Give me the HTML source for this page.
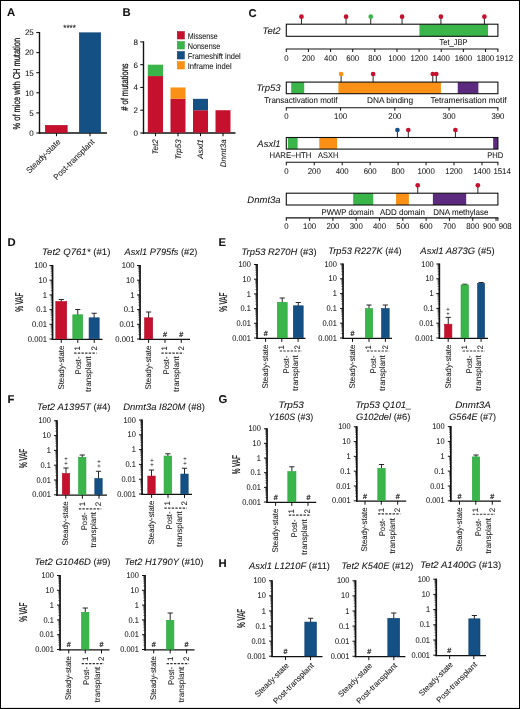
<!DOCTYPE html>
<html><head><meta charset="utf-8"><title>Figure</title>
<style>
html,body{margin:0;padding:0;background:#fff;}
svg{display:block;font-family:"Liberation Sans",sans-serif;fill:#111;}
text{stroke:#111;stroke-width:0.05px;text-rendering:geometricPrecision;}
</style></head><body>
<svg width="520" height="709" viewBox="0 0 520 709" shape-rendering="auto">
<rect x="0" y="0" width="520" height="709" fill="#fff"/>
<rect x="0" y="0" width="520" height="1" fill="#000"/>
<rect x="0" y="0" width="1" height="709" fill="#000"/>
<rect x="519" y="0" width="1" height="709" fill="#000"/>
<rect x="0" y="707.9" width="520" height="1.1" fill="#000"/>
<text x="6.90" y="15.95" font-size="11.3" font-weight="bold">A</text>
<text x="122.60" y="16.05" font-size="11.3" font-weight="bold">B</text>
<text x="248.60" y="16.55" font-size="11.3" font-weight="bold">C</text>
<text x="7.60" y="246.25" font-size="11.3" font-weight="bold">D</text>
<text x="218.60" y="246.25" font-size="11.3" font-weight="bold">E</text>
<text x="7.60" y="403.35" font-size="11.3" font-weight="bold">F</text>
<text x="218.40" y="403.35" font-size="11.3" font-weight="bold">G</text>
<text x="218.40" y="567.25" font-size="11.3" font-weight="bold">H</text>
<line x1="39.50" y1="32.00" x2="39.50" y2="133.70" stroke="#111" stroke-width="1.4" stroke-linecap="butt"/>
<line x1="38.80" y1="133.00" x2="107.00" y2="133.00" stroke="#111" stroke-width="1.4" stroke-linecap="butt"/>
<line x1="36.30" y1="133.00" x2="39.50" y2="133.00" stroke="#111" stroke-width="1.1" stroke-linecap="butt"/>
<text x="33.80" y="135.86" font-size="8.0" text-anchor="end">0</text>
<line x1="36.30" y1="112.90" x2="39.50" y2="112.90" stroke="#111" stroke-width="1.1" stroke-linecap="butt"/>
<text x="33.80" y="115.76" font-size="8.0" text-anchor="end">5</text>
<line x1="36.30" y1="92.80" x2="39.50" y2="92.80" stroke="#111" stroke-width="1.1" stroke-linecap="butt"/>
<text x="33.80" y="95.66" font-size="8.0" text-anchor="end">10</text>
<line x1="36.30" y1="72.70" x2="39.50" y2="72.70" stroke="#111" stroke-width="1.1" stroke-linecap="butt"/>
<text x="33.80" y="75.56" font-size="8.0" text-anchor="end">15</text>
<line x1="36.30" y1="52.60" x2="39.50" y2="52.60" stroke="#111" stroke-width="1.1" stroke-linecap="butt"/>
<text x="33.80" y="55.46" font-size="8.0" text-anchor="end">20</text>
<line x1="36.30" y1="32.50" x2="39.50" y2="32.50" stroke="#111" stroke-width="1.1" stroke-linecap="butt"/>
<text x="33.80" y="35.36" font-size="8.0" text-anchor="end">25</text>
<rect x="45.30" y="125.30" width="21.90" height="7.40" fill="#c5112e" stroke="#ae0c27" stroke-width="0.6"/>
<rect x="79.30" y="32.80" width="21.40" height="99.90" fill="#155085" stroke="#0e4273" stroke-width="0.6"/>
<line x1="56.50" y1="133.00" x2="56.50" y2="136.20" stroke="#111" stroke-width="1.1" stroke-linecap="butt"/>
<line x1="90.00" y1="133.00" x2="90.00" y2="136.20" stroke="#111" stroke-width="1.1" stroke-linecap="butt"/>
<text x="69.60" y="30.60" font-size="9" text-anchor="middle" textLength="12.60" lengthAdjust="spacingAndGlyphs">****</text>
<text transform="translate(16.40 83.70) rotate(-90)" x="0" y="3.58" font-size="10" text-anchor="middle" textLength="91.50" lengthAdjust="spacingAndGlyphs" style="stroke-width:0.25px">% of mice with CH mutation</text>
<text transform="translate(61.00 142.40) rotate(-45)" x="0" y="0.00" font-size="8.3" text-anchor="end" textLength="44.50" lengthAdjust="spacingAndGlyphs">Steady-state</text>
<text transform="translate(95.00 142.40) rotate(-45)" x="0" y="0.00" font-size="8.3" text-anchor="end" textLength="54.00" lengthAdjust="spacingAndGlyphs">Post-transplant</text>
<line x1="143.50" y1="41.40" x2="143.50" y2="133.70" stroke="#111" stroke-width="1.4" stroke-linecap="butt"/>
<line x1="142.80" y1="133.00" x2="235.50" y2="133.00" stroke="#111" stroke-width="1.4" stroke-linecap="butt"/>
<line x1="140.30" y1="133.00" x2="143.50" y2="133.00" stroke="#111" stroke-width="1.1" stroke-linecap="butt"/>
<text x="137.90" y="135.86" font-size="8.0" text-anchor="end">0</text>
<line x1="140.30" y1="110.22" x2="143.50" y2="110.22" stroke="#111" stroke-width="1.1" stroke-linecap="butt"/>
<text x="137.90" y="113.09" font-size="8.0" text-anchor="end">2</text>
<line x1="140.30" y1="87.45" x2="143.50" y2="87.45" stroke="#111" stroke-width="1.1" stroke-linecap="butt"/>
<text x="137.90" y="90.31" font-size="8.0" text-anchor="end">4</text>
<line x1="140.30" y1="64.68" x2="143.50" y2="64.68" stroke="#111" stroke-width="1.1" stroke-linecap="butt"/>
<text x="137.90" y="67.54" font-size="8.0" text-anchor="end">6</text>
<line x1="140.30" y1="41.90" x2="143.50" y2="41.90" stroke="#111" stroke-width="1.1" stroke-linecap="butt"/>
<text x="137.90" y="44.76" font-size="8.0" text-anchor="end">8</text>
<rect x="147.80" y="76.06" width="15.20" height="56.54" fill="#c5112e"/>
<rect x="147.80" y="64.68" width="15.20" height="11.39" fill="#3ab54a"/>
<rect x="170.50" y="98.84" width="15.00" height="33.76" fill="#c5112e"/>
<rect x="170.50" y="87.45" width="15.00" height="11.39" fill="#fa9116"/>
<rect x="193.00" y="110.22" width="15.00" height="22.38" fill="#c5112e"/>
<rect x="193.00" y="98.84" width="15.00" height="11.39" fill="#155085"/>
<rect x="215.50" y="110.22" width="15.00" height="22.38" fill="#c5112e"/>
<line x1="155.50" y1="133.00" x2="155.50" y2="136.20" stroke="#111" stroke-width="1.1" stroke-linecap="butt"/>
<text transform="translate(155.50 139.30) rotate(-90)" x="0" y="2.86" font-size="8" text-anchor="end" font-style="italic">Tet2</text>
<line x1="178.00" y1="133.00" x2="178.00" y2="136.20" stroke="#111" stroke-width="1.1" stroke-linecap="butt"/>
<text transform="translate(178.00 139.30) rotate(-90)" x="0" y="2.86" font-size="8" text-anchor="end" font-style="italic">Trp53</text>
<line x1="200.50" y1="133.00" x2="200.50" y2="136.20" stroke="#111" stroke-width="1.1" stroke-linecap="butt"/>
<text transform="translate(200.50 139.30) rotate(-90)" x="0" y="2.86" font-size="8" text-anchor="end" font-style="italic">Asxl1</text>
<line x1="223.00" y1="133.00" x2="223.00" y2="136.20" stroke="#111" stroke-width="1.1" stroke-linecap="butt"/>
<text transform="translate(223.00 139.30) rotate(-90)" x="0" y="2.86" font-size="8" text-anchor="end" font-style="italic">Dnmt3a</text>
<text transform="translate(124.20 87.10) rotate(-90)" x="0" y="3.58" font-size="10" text-anchor="middle" textLength="47.50" lengthAdjust="spacingAndGlyphs" style="stroke-width:0.25px"># of mutations</text>
<rect x="177.30" y="31.60" width="7.00" height="7.40" fill="#c5112e" stroke="#ae0c27" stroke-width="0.6"/>
<text x="187.70" y="38.77" font-size="8.3" textLength="30.09" lengthAdjust="spacingAndGlyphs">Missense</text>
<rect x="177.30" y="41.60" width="7.00" height="7.40" fill="#3ab54a" stroke="#2ba43f" stroke-width="0.6"/>
<text x="187.70" y="48.77" font-size="8.3" textLength="32.64" lengthAdjust="spacingAndGlyphs">Nonsense</text>
<rect x="177.30" y="51.60" width="7.00" height="7.40" fill="#155085" stroke="#0e4273" stroke-width="0.6"/>
<text x="187.70" y="58.77" font-size="8.3" textLength="53.04" lengthAdjust="spacingAndGlyphs">Frameshift indel</text>
<rect x="177.30" y="61.60" width="7.00" height="7.40" fill="#fa9116" stroke="#f58400" stroke-width="0.6"/>
<text x="187.70" y="68.77" font-size="8.3" textLength="44.06" lengthAdjust="spacingAndGlyphs">Inframe indel</text>
<rect x="419.44" y="24.20" width="68.62" height="12.10" fill="#3ab54a"/>
<rect x="286.30" y="24.20" width="211.60" height="12.10" fill="none" stroke="#111" stroke-width="1.1"/>
<line x1="301.46" y1="16.70" x2="301.46" y2="24.20" stroke="#111" stroke-width="0.9" stroke-linecap="butt"/>
<circle cx="301.46" cy="16.70" r="2.35" fill="#c5112e"/>
<line x1="346.06" y1="16.70" x2="346.06" y2="24.20" stroke="#111" stroke-width="0.9" stroke-linecap="butt"/>
<circle cx="346.06" cy="16.70" r="2.35" fill="#c5112e"/>
<line x1="370.74" y1="16.70" x2="370.74" y2="24.20" stroke="#111" stroke-width="0.9" stroke-linecap="butt"/>
<circle cx="370.74" cy="16.70" r="2.35" fill="#3ab54a"/>
<line x1="402.06" y1="16.70" x2="402.06" y2="24.20" stroke="#111" stroke-width="0.9" stroke-linecap="butt"/>
<circle cx="402.06" cy="16.70" r="2.35" fill="#c5112e"/>
<line x1="440.91" y1="16.70" x2="440.91" y2="24.20" stroke="#111" stroke-width="0.9" stroke-linecap="butt"/>
<circle cx="440.91" cy="16.70" r="2.35" fill="#c5112e"/>
<line x1="484.40" y1="16.70" x2="484.40" y2="24.20" stroke="#111" stroke-width="0.9" stroke-linecap="butt"/>
<circle cx="484.40" cy="16.70" r="2.35" fill="#c5112e"/>
<text x="280.60" y="33.65" font-size="9.5" text-anchor="end" font-style="italic">Tet2</text>
<line x1="285.80" y1="49.00" x2="498.40" y2="49.00" stroke="#111" stroke-width="1.1" stroke-linecap="butt"/>
<line x1="286.30" y1="49.00" x2="286.30" y2="52.00" stroke="#111" stroke-width="1.0" stroke-linecap="butt"/>
<text x="286.30" y="60.57" font-size="8.3" text-anchor="middle" textLength="4.34" lengthAdjust="spacingAndGlyphs">0</text>
<line x1="308.43" y1="49.00" x2="308.43" y2="52.00" stroke="#111" stroke-width="1.0" stroke-linecap="butt"/>
<text x="308.43" y="60.57" font-size="8.3" text-anchor="middle" textLength="13.01" lengthAdjust="spacingAndGlyphs">200</text>
<line x1="330.57" y1="49.00" x2="330.57" y2="52.00" stroke="#111" stroke-width="1.0" stroke-linecap="butt"/>
<text x="330.57" y="60.57" font-size="8.3" text-anchor="middle" textLength="13.01" lengthAdjust="spacingAndGlyphs">400</text>
<line x1="352.70" y1="49.00" x2="352.70" y2="52.00" stroke="#111" stroke-width="1.0" stroke-linecap="butt"/>
<text x="352.70" y="60.57" font-size="8.3" text-anchor="middle" textLength="13.01" lengthAdjust="spacingAndGlyphs">600</text>
<line x1="374.84" y1="49.00" x2="374.84" y2="52.00" stroke="#111" stroke-width="1.0" stroke-linecap="butt"/>
<text x="374.84" y="60.57" font-size="8.3" text-anchor="middle" textLength="13.01" lengthAdjust="spacingAndGlyphs">800</text>
<line x1="396.97" y1="49.00" x2="396.97" y2="52.00" stroke="#111" stroke-width="1.0" stroke-linecap="butt"/>
<text x="396.97" y="60.57" font-size="8.3" text-anchor="middle" textLength="17.35" lengthAdjust="spacingAndGlyphs">1000</text>
<line x1="419.10" y1="49.00" x2="419.10" y2="52.00" stroke="#111" stroke-width="1.0" stroke-linecap="butt"/>
<text x="419.10" y="60.57" font-size="8.3" text-anchor="middle" textLength="17.35" lengthAdjust="spacingAndGlyphs">1200</text>
<line x1="441.24" y1="49.00" x2="441.24" y2="52.00" stroke="#111" stroke-width="1.0" stroke-linecap="butt"/>
<text x="441.24" y="60.57" font-size="8.3" text-anchor="middle" textLength="17.35" lengthAdjust="spacingAndGlyphs">1400</text>
<line x1="463.37" y1="49.00" x2="463.37" y2="52.00" stroke="#111" stroke-width="1.0" stroke-linecap="butt"/>
<text x="463.37" y="60.57" font-size="8.3" text-anchor="middle" textLength="17.35" lengthAdjust="spacingAndGlyphs">1600</text>
<line x1="485.51" y1="49.00" x2="485.51" y2="52.00" stroke="#111" stroke-width="1.0" stroke-linecap="butt"/>
<text x="485.51" y="60.57" font-size="8.3" text-anchor="middle" textLength="17.35" lengthAdjust="spacingAndGlyphs">1800</text>
<line x1="497.90" y1="49.00" x2="497.90" y2="52.00" stroke="#111" stroke-width="1.0" stroke-linecap="butt"/>
<text x="504.40" y="60.57" font-size="8.3" text-anchor="middle" textLength="17.35" lengthAdjust="spacingAndGlyphs">1912</text>
<text x="453.50" y="45.21" font-size="8.4" text-anchor="middle" textLength="28.00" lengthAdjust="spacingAndGlyphs">Tet_JBP</text>
<rect x="291.18" y="82.10" width="13.02" height="11.60" fill="#3ab54a"/>
<rect x="338.39" y="82.10" width="102.54" height="11.60" fill="#fa9116"/>
<rect x="457.75" y="82.10" width="20.62" height="11.60" fill="#5c2a7e"/>
<rect x="286.30" y="82.10" width="211.60" height="11.60" fill="none" stroke="#111" stroke-width="1.1"/>
<line x1="341.10" y1="74.00" x2="341.10" y2="82.10" stroke="#111" stroke-width="0.9" stroke-linecap="butt"/>
<circle cx="341.10" cy="74.00" r="2.35" fill="#fa9116"/>
<line x1="373.11" y1="74.00" x2="373.11" y2="82.10" stroke="#111" stroke-width="0.9" stroke-linecap="butt"/>
<circle cx="373.11" cy="74.00" r="2.35" fill="#c5112e"/>
<line x1="432.79" y1="74.00" x2="432.79" y2="82.10" stroke="#111" stroke-width="0.9" stroke-linecap="butt"/>
<circle cx="432.79" cy="74.00" r="2.35" fill="#c5112e"/>
<line x1="436.32" y1="74.00" x2="436.32" y2="82.10" stroke="#111" stroke-width="0.9" stroke-linecap="butt"/>
<circle cx="436.32" cy="74.00" r="2.35" fill="#c5112e"/>
<text x="280.60" y="91.30" font-size="9.5" text-anchor="end" font-style="italic">Trp53</text>
<line x1="285.80" y1="107.70" x2="498.40" y2="107.70" stroke="#111" stroke-width="1.1" stroke-linecap="butt"/>
<line x1="286.30" y1="107.70" x2="286.30" y2="110.70" stroke="#111" stroke-width="1.0" stroke-linecap="butt"/>
<text x="286.30" y="119.27" font-size="8.3" text-anchor="middle" textLength="4.34" lengthAdjust="spacingAndGlyphs">0</text>
<line x1="340.56" y1="107.70" x2="340.56" y2="110.70" stroke="#111" stroke-width="1.0" stroke-linecap="butt"/>
<text x="340.56" y="119.27" font-size="8.3" text-anchor="middle" textLength="13.01" lengthAdjust="spacingAndGlyphs">100</text>
<line x1="394.81" y1="107.70" x2="394.81" y2="110.70" stroke="#111" stroke-width="1.0" stroke-linecap="butt"/>
<text x="394.81" y="119.27" font-size="8.3" text-anchor="middle" textLength="13.01" lengthAdjust="spacingAndGlyphs">200</text>
<line x1="449.07" y1="107.70" x2="449.07" y2="110.70" stroke="#111" stroke-width="1.0" stroke-linecap="butt"/>
<text x="449.07" y="119.27" font-size="8.3" text-anchor="middle" textLength="13.01" lengthAdjust="spacingAndGlyphs">300</text>
<line x1="497.90" y1="107.70" x2="497.90" y2="110.70" stroke="#111" stroke-width="1.0" stroke-linecap="butt"/>
<text x="497.90" y="119.27" font-size="8.3" text-anchor="middle" textLength="13.01" lengthAdjust="spacingAndGlyphs">390</text>
<text x="300.85" y="102.81" font-size="8.4" text-anchor="middle" textLength="73.30" lengthAdjust="spacingAndGlyphs">Transactivation motif</text>
<text x="390.05" y="102.81" font-size="8.4" text-anchor="middle" textLength="46.10" lengthAdjust="spacingAndGlyphs">DNA binding</text>
<text x="468.45" y="102.81" font-size="8.4" text-anchor="middle" textLength="76.10" lengthAdjust="spacingAndGlyphs">Tetramerisation motif</text>
<rect x="287.84" y="137.50" width="9.78" height="11.60" fill="#3ab54a"/>
<rect x="319.28" y="137.50" width="17.75" height="11.60" fill="#fa9116"/>
<rect x="493.15" y="137.50" width="4.75" height="11.60" fill="#5c2a7e"/>
<rect x="286.30" y="137.50" width="211.60" height="11.60" fill="none" stroke="#111" stroke-width="1.1"/>
<line x1="397.41" y1="130.00" x2="397.41" y2="137.50" stroke="#111" stroke-width="0.9" stroke-linecap="butt"/>
<circle cx="397.41" cy="130.00" r="2.35" fill="#155085"/>
<line x1="408.31" y1="130.00" x2="408.31" y2="137.50" stroke="#111" stroke-width="0.9" stroke-linecap="butt"/>
<circle cx="408.31" cy="130.00" r="2.35" fill="#c5112e"/>
<line x1="455.41" y1="130.00" x2="455.41" y2="137.50" stroke="#111" stroke-width="0.9" stroke-linecap="butt"/>
<circle cx="455.41" cy="130.00" r="2.35" fill="#c5112e"/>
<text x="280.60" y="146.70" font-size="9.5" text-anchor="end" font-style="italic">Asxl1</text>
<line x1="285.80" y1="162.30" x2="498.40" y2="162.30" stroke="#111" stroke-width="1.1" stroke-linecap="butt"/>
<line x1="286.30" y1="162.30" x2="286.30" y2="165.30" stroke="#111" stroke-width="1.0" stroke-linecap="butt"/>
<text x="286.30" y="173.87" font-size="8.3" text-anchor="middle" textLength="4.34" lengthAdjust="spacingAndGlyphs">0</text>
<line x1="314.25" y1="162.30" x2="314.25" y2="165.30" stroke="#111" stroke-width="1.0" stroke-linecap="butt"/>
<text x="314.25" y="173.87" font-size="8.3" text-anchor="middle" textLength="13.01" lengthAdjust="spacingAndGlyphs">200</text>
<line x1="342.20" y1="162.30" x2="342.20" y2="165.30" stroke="#111" stroke-width="1.0" stroke-linecap="butt"/>
<text x="342.20" y="173.87" font-size="8.3" text-anchor="middle" textLength="13.01" lengthAdjust="spacingAndGlyphs">400</text>
<line x1="370.16" y1="162.30" x2="370.16" y2="165.30" stroke="#111" stroke-width="1.0" stroke-linecap="butt"/>
<text x="370.16" y="173.87" font-size="8.3" text-anchor="middle" textLength="13.01" lengthAdjust="spacingAndGlyphs">600</text>
<line x1="398.11" y1="162.30" x2="398.11" y2="165.30" stroke="#111" stroke-width="1.0" stroke-linecap="butt"/>
<text x="398.11" y="173.87" font-size="8.3" text-anchor="middle" textLength="13.01" lengthAdjust="spacingAndGlyphs">800</text>
<line x1="426.06" y1="162.30" x2="426.06" y2="165.30" stroke="#111" stroke-width="1.0" stroke-linecap="butt"/>
<text x="426.06" y="173.87" font-size="8.3" text-anchor="middle" textLength="17.35" lengthAdjust="spacingAndGlyphs">1000</text>
<line x1="454.01" y1="162.30" x2="454.01" y2="165.30" stroke="#111" stroke-width="1.0" stroke-linecap="butt"/>
<text x="454.01" y="173.87" font-size="8.3" text-anchor="middle" textLength="17.35" lengthAdjust="spacingAndGlyphs">1200</text>
<line x1="481.97" y1="162.30" x2="481.97" y2="165.30" stroke="#111" stroke-width="1.0" stroke-linecap="butt"/>
<text x="481.97" y="173.87" font-size="8.3" text-anchor="middle" textLength="17.35" lengthAdjust="spacingAndGlyphs">1400</text>
<line x1="497.90" y1="162.30" x2="497.90" y2="165.30" stroke="#111" stroke-width="1.0" stroke-linecap="butt"/>
<text x="502.10" y="173.87" font-size="8.3" text-anchor="middle" textLength="17.35" lengthAdjust="spacingAndGlyphs">1514</text>
<text x="290.50" y="158.31" font-size="8.4" text-anchor="middle" textLength="41.80" lengthAdjust="spacingAndGlyphs">HARE–HTH</text>
<text x="328.20" y="158.31" font-size="8.4" text-anchor="middle" textLength="20.20" lengthAdjust="spacingAndGlyphs">ASXH</text>
<text x="495.25" y="158.31" font-size="8.4" text-anchor="middle" textLength="16.10" lengthAdjust="spacingAndGlyphs">PHD</text>
<rect x="353.18" y="193.20" width="20.04" height="11.80" fill="#3ab54a"/>
<rect x="396.06" y="193.20" width="12.82" height="11.80" fill="#fa9116"/>
<rect x="432.88" y="193.20" width="33.32" height="11.80" fill="#5c2a7e"/>
<rect x="286.30" y="193.20" width="211.60" height="11.80" fill="none" stroke="#111" stroke-width="1.1"/>
<line x1="417.73" y1="185.30" x2="417.73" y2="193.20" stroke="#111" stroke-width="0.9" stroke-linecap="butt"/>
<circle cx="417.73" cy="185.30" r="2.35" fill="#c5112e"/>
<line x1="477.86" y1="185.30" x2="477.86" y2="193.20" stroke="#111" stroke-width="0.9" stroke-linecap="butt"/>
<circle cx="477.86" cy="185.30" r="2.35" fill="#c5112e"/>
<text x="280.60" y="202.50" font-size="9.5" text-anchor="end" font-style="italic">Dnmt3a</text>
<line x1="285.80" y1="217.90" x2="498.40" y2="217.90" stroke="#111" stroke-width="1.1" stroke-linecap="butt"/>
<line x1="286.30" y1="217.90" x2="286.30" y2="220.90" stroke="#111" stroke-width="1.0" stroke-linecap="butt"/>
<text x="286.30" y="229.47" font-size="8.3" text-anchor="middle" textLength="4.34" lengthAdjust="spacingAndGlyphs">0</text>
<line x1="309.60" y1="217.90" x2="309.60" y2="220.90" stroke="#111" stroke-width="1.0" stroke-linecap="butt"/>
<text x="309.60" y="229.47" font-size="8.3" text-anchor="middle" textLength="13.01" lengthAdjust="spacingAndGlyphs">100</text>
<line x1="332.91" y1="217.90" x2="332.91" y2="220.90" stroke="#111" stroke-width="1.0" stroke-linecap="butt"/>
<text x="332.91" y="229.47" font-size="8.3" text-anchor="middle" textLength="13.01" lengthAdjust="spacingAndGlyphs">200</text>
<line x1="356.21" y1="217.90" x2="356.21" y2="220.90" stroke="#111" stroke-width="1.0" stroke-linecap="butt"/>
<text x="356.21" y="229.47" font-size="8.3" text-anchor="middle" textLength="13.01" lengthAdjust="spacingAndGlyphs">300</text>
<line x1="379.52" y1="217.90" x2="379.52" y2="220.90" stroke="#111" stroke-width="1.0" stroke-linecap="butt"/>
<text x="379.52" y="229.47" font-size="8.3" text-anchor="middle" textLength="13.01" lengthAdjust="spacingAndGlyphs">400</text>
<line x1="402.82" y1="217.90" x2="402.82" y2="220.90" stroke="#111" stroke-width="1.0" stroke-linecap="butt"/>
<text x="402.82" y="229.47" font-size="8.3" text-anchor="middle" textLength="13.01" lengthAdjust="spacingAndGlyphs">500</text>
<line x1="426.12" y1="217.90" x2="426.12" y2="220.90" stroke="#111" stroke-width="1.0" stroke-linecap="butt"/>
<text x="426.12" y="229.47" font-size="8.3" text-anchor="middle" textLength="13.01" lengthAdjust="spacingAndGlyphs">600</text>
<line x1="449.43" y1="217.90" x2="449.43" y2="220.90" stroke="#111" stroke-width="1.0" stroke-linecap="butt"/>
<text x="449.43" y="229.47" font-size="8.3" text-anchor="middle" textLength="13.01" lengthAdjust="spacingAndGlyphs">700</text>
<line x1="472.73" y1="217.90" x2="472.73" y2="220.90" stroke="#111" stroke-width="1.0" stroke-linecap="butt"/>
<text x="472.73" y="229.47" font-size="8.3" text-anchor="middle" textLength="13.01" lengthAdjust="spacingAndGlyphs">800</text>
<line x1="496.04" y1="217.90" x2="496.04" y2="220.90" stroke="#111" stroke-width="1.0" stroke-linecap="butt"/>
<text x="489.44" y="229.47" font-size="8.3" text-anchor="middle" textLength="13.01" lengthAdjust="spacingAndGlyphs">900</text>
<line x1="497.90" y1="217.90" x2="497.90" y2="220.90" stroke="#111" stroke-width="1.0" stroke-linecap="butt"/>
<text x="505.20" y="229.47" font-size="8.3" text-anchor="middle" textLength="13.01" lengthAdjust="spacingAndGlyphs">908</text>
<text x="347.70" y="214.51" font-size="8.4" text-anchor="middle" textLength="52.20" lengthAdjust="spacingAndGlyphs">PWWP domain</text>
<text x="402.50" y="214.51" font-size="8.4" text-anchor="middle" textLength="45.00" lengthAdjust="spacingAndGlyphs">ADD domain</text>
<text x="460.90" y="214.51" font-size="8.4" text-anchor="middle" textLength="55.20" lengthAdjust="spacingAndGlyphs">DNA methylase</text>
<text x="76.20" y="255.37" font-size="9.4" text-anchor="middle" textLength="68.31" lengthAdjust="spacingAndGlyphs"><tspan font-style="italic">Tet2 Q761*</tspan> (#1)</text>
<line x1="52.55" y1="264.95" x2="52.55" y2="339.90" stroke="#111" stroke-width="1.7" stroke-linecap="butt"/>
<line x1="51.70" y1="339.35" x2="102.50" y2="339.35" stroke="#111" stroke-width="1.2" stroke-linecap="butt"/>
<line x1="49.50" y1="265.50" x2="52.50" y2="265.50" stroke="#111" stroke-width="1.0" stroke-linecap="butt"/>
<text x="46.90" y="268.12" font-size="8.3" text-anchor="end" textLength="12.75" lengthAdjust="spacingAndGlyphs">100</text>
<path d="M50.7 275.77H52.5M50.7 273.19H52.5M50.7 271.35H52.5M50.7 269.93H52.5M50.7 268.76H52.5M50.7 267.78H52.5M50.7 266.92H52.5M50.7 266.17H52.5" stroke="#111" stroke-width="0.5" fill="none"/>
<line x1="49.50" y1="280.20" x2="52.50" y2="280.20" stroke="#111" stroke-width="1.0" stroke-linecap="butt"/>
<text x="46.90" y="282.82" font-size="8.3" text-anchor="end" textLength="8.50" lengthAdjust="spacingAndGlyphs">10</text>
<path d="M50.7 290.47H52.5M50.7 287.89H52.5M50.7 286.05H52.5M50.7 284.63H52.5M50.7 283.46H52.5M50.7 282.48H52.5M50.7 281.62H52.5M50.7 280.87H52.5" stroke="#111" stroke-width="0.5" fill="none"/>
<line x1="49.50" y1="294.90" x2="52.50" y2="294.90" stroke="#111" stroke-width="1.0" stroke-linecap="butt"/>
<text x="46.90" y="297.52" font-size="8.3" text-anchor="end" textLength="4.25" lengthAdjust="spacingAndGlyphs">1</text>
<path d="M50.7 305.17H52.5M50.7 302.59H52.5M50.7 300.75H52.5M50.7 299.33H52.5M50.7 298.16H52.5M50.7 297.18H52.5M50.7 296.32H52.5M50.7 295.57H52.5" stroke="#111" stroke-width="0.5" fill="none"/>
<line x1="49.50" y1="309.60" x2="52.50" y2="309.60" stroke="#111" stroke-width="1.0" stroke-linecap="butt"/>
<text x="46.90" y="312.22" font-size="8.3" text-anchor="end" textLength="10.63" lengthAdjust="spacingAndGlyphs">0.1</text>
<path d="M50.7 319.87H52.5M50.7 317.29H52.5M50.7 315.45H52.5M50.7 314.03H52.5M50.7 312.86H52.5M50.7 311.88H52.5M50.7 311.02H52.5M50.7 310.27H52.5" stroke="#111" stroke-width="0.5" fill="none"/>
<line x1="49.50" y1="324.30" x2="52.50" y2="324.30" stroke="#111" stroke-width="1.0" stroke-linecap="butt"/>
<text x="46.90" y="326.92" font-size="8.3" text-anchor="end" textLength="14.88" lengthAdjust="spacingAndGlyphs">0.01</text>
<path d="M50.7 334.57H52.5M50.7 331.99H52.5M50.7 330.15H52.5M50.7 328.73H52.5M50.7 327.56H52.5M50.7 326.58H52.5M50.7 325.72H52.5M50.7 324.97H52.5" stroke="#111" stroke-width="0.5" fill="none"/>
<line x1="49.50" y1="339.00" x2="52.50" y2="339.00" stroke="#111" stroke-width="1.0" stroke-linecap="butt"/>
<text x="46.90" y="341.62" font-size="8.3" text-anchor="end" textLength="19.13" lengthAdjust="spacingAndGlyphs">0.001</text>
<line x1="61.25" y1="299.50" x2="61.25" y2="301.75" stroke="#111" stroke-width="0.9" stroke-linecap="butt"/>
<line x1="58.65" y1="299.50" x2="63.85" y2="299.50" stroke="#111" stroke-width="0.9" stroke-linecap="butt"/>
<rect x="55.80" y="301.55" width="10.90" height="37.25" fill="#c5112e" stroke="#ae0c27" stroke-width="0.6"/>
<line x1="77.75" y1="309.50" x2="77.75" y2="315.00" stroke="#111" stroke-width="0.9" stroke-linecap="butt"/>
<line x1="75.15" y1="309.50" x2="80.35" y2="309.50" stroke="#111" stroke-width="0.9" stroke-linecap="butt"/>
<rect x="72.80" y="314.80" width="9.90" height="24.00" fill="#3ab54a" stroke="#2ba43f" stroke-width="0.6"/>
<line x1="94.12" y1="313.25" x2="94.12" y2="318.00" stroke="#111" stroke-width="0.9" stroke-linecap="butt"/>
<line x1="91.53" y1="313.25" x2="96.72" y2="313.25" stroke="#111" stroke-width="0.9" stroke-linecap="butt"/>
<rect x="89.05" y="317.80" width="10.15" height="21.00" fill="#155085" stroke="#0e4273" stroke-width="0.6"/>
<line x1="61.25" y1="339.00" x2="61.25" y2="342.90" stroke="#111" stroke-width="1.0" stroke-linecap="butt"/>
<line x1="77.75" y1="339.00" x2="77.75" y2="342.90" stroke="#111" stroke-width="1.0" stroke-linecap="butt"/>
<line x1="94.25" y1="339.00" x2="94.25" y2="342.90" stroke="#111" stroke-width="1.0" stroke-linecap="butt"/>
<text transform="translate(19.20 302.20) rotate(-90)" x="0" y="4.01" font-size="11.2" text-anchor="middle" textLength="19.30" lengthAdjust="spacingAndGlyphs" style="stroke-width:0.25px">% VAF</text>
<text transform="translate(60.75 345.60) rotate(-90)" x="0" y="2.94" font-size="8.2" text-anchor="end" textLength="44.00" lengthAdjust="spacingAndGlyphs">Steady-state</text>
<text transform="translate(77.25 348.20) rotate(-90)" x="0" y="2.86" font-size="8.0" text-anchor="middle">1</text>
<text transform="translate(93.75 348.20) rotate(-90)" x="0" y="2.86" font-size="8.0" text-anchor="middle">2</text>
<line x1="74.15" y1="353.10" x2="96.55" y2="353.10" stroke="#333" stroke-width="1.1" stroke-dasharray="2.4 1.25" stroke-linecap="butt"/>
<text transform="translate(78.15 356.50) rotate(-90)" x="0" y="2.94" font-size="8.2" text-anchor="end" textLength="18.00" lengthAdjust="spacingAndGlyphs">Post-</text>
<text transform="translate(87.85 356.20) rotate(-90)" x="0" y="2.94" font-size="8.2" text-anchor="end" textLength="35.50" lengthAdjust="spacingAndGlyphs">transplant</text>
<text x="161.00" y="255.37" font-size="9.4" text-anchor="middle" textLength="72.86" lengthAdjust="spacingAndGlyphs"><tspan font-style="italic">Asxl1 P795fs</tspan> (#2)</text>
<line x1="140.05" y1="264.95" x2="140.05" y2="339.90" stroke="#111" stroke-width="1.7" stroke-linecap="butt"/>
<line x1="139.20" y1="339.35" x2="190.00" y2="339.35" stroke="#111" stroke-width="1.2" stroke-linecap="butt"/>
<line x1="137.00" y1="265.50" x2="140.00" y2="265.50" stroke="#111" stroke-width="1.0" stroke-linecap="butt"/>
<text x="134.40" y="268.12" font-size="8.3" text-anchor="end" textLength="12.75" lengthAdjust="spacingAndGlyphs">100</text>
<path d="M138.2 275.77H140.0M138.2 273.19H140.0M138.2 271.35H140.0M138.2 269.93H140.0M138.2 268.76H140.0M138.2 267.78H140.0M138.2 266.92H140.0M138.2 266.17H140.0" stroke="#111" stroke-width="0.5" fill="none"/>
<line x1="137.00" y1="280.20" x2="140.00" y2="280.20" stroke="#111" stroke-width="1.0" stroke-linecap="butt"/>
<text x="134.40" y="282.82" font-size="8.3" text-anchor="end" textLength="8.50" lengthAdjust="spacingAndGlyphs">10</text>
<path d="M138.2 290.47H140.0M138.2 287.89H140.0M138.2 286.05H140.0M138.2 284.63H140.0M138.2 283.46H140.0M138.2 282.48H140.0M138.2 281.62H140.0M138.2 280.87H140.0" stroke="#111" stroke-width="0.5" fill="none"/>
<line x1="137.00" y1="294.90" x2="140.00" y2="294.90" stroke="#111" stroke-width="1.0" stroke-linecap="butt"/>
<text x="134.40" y="297.52" font-size="8.3" text-anchor="end" textLength="4.25" lengthAdjust="spacingAndGlyphs">1</text>
<path d="M138.2 305.17H140.0M138.2 302.59H140.0M138.2 300.75H140.0M138.2 299.33H140.0M138.2 298.16H140.0M138.2 297.18H140.0M138.2 296.32H140.0M138.2 295.57H140.0" stroke="#111" stroke-width="0.5" fill="none"/>
<line x1="137.00" y1="309.60" x2="140.00" y2="309.60" stroke="#111" stroke-width="1.0" stroke-linecap="butt"/>
<text x="134.40" y="312.22" font-size="8.3" text-anchor="end" textLength="10.63" lengthAdjust="spacingAndGlyphs">0.1</text>
<path d="M138.2 319.87H140.0M138.2 317.29H140.0M138.2 315.45H140.0M138.2 314.03H140.0M138.2 312.86H140.0M138.2 311.88H140.0M138.2 311.02H140.0M138.2 310.27H140.0" stroke="#111" stroke-width="0.5" fill="none"/>
<line x1="137.00" y1="324.30" x2="140.00" y2="324.30" stroke="#111" stroke-width="1.0" stroke-linecap="butt"/>
<text x="134.40" y="326.92" font-size="8.3" text-anchor="end" textLength="14.88" lengthAdjust="spacingAndGlyphs">0.01</text>
<path d="M138.2 334.57H140.0M138.2 331.99H140.0M138.2 330.15H140.0M138.2 328.73H140.0M138.2 327.56H140.0M138.2 326.58H140.0M138.2 325.72H140.0M138.2 324.97H140.0" stroke="#111" stroke-width="0.5" fill="none"/>
<line x1="137.00" y1="339.00" x2="140.00" y2="339.00" stroke="#111" stroke-width="1.0" stroke-linecap="butt"/>
<text x="134.40" y="341.62" font-size="8.3" text-anchor="end" textLength="19.13" lengthAdjust="spacingAndGlyphs">0.001</text>
<line x1="148.62" y1="312.00" x2="148.62" y2="318.00" stroke="#111" stroke-width="0.9" stroke-linecap="butt"/>
<line x1="146.03" y1="312.00" x2="151.22" y2="312.00" stroke="#111" stroke-width="0.9" stroke-linecap="butt"/>
<rect x="144.55" y="317.80" width="8.15" height="21.00" fill="#c5112e" stroke="#ae0c27" stroke-width="0.6"/>
<text x="165.00" y="336.95" font-size="7.4" text-anchor="middle" textLength="4.00" lengthAdjust="spacingAndGlyphs" style="stroke-width:0.2px">#</text>
<text x="181.25" y="336.95" font-size="7.4" text-anchor="middle" textLength="4.00" lengthAdjust="spacingAndGlyphs" style="stroke-width:0.2px">#</text>
<line x1="148.60" y1="339.00" x2="148.60" y2="342.90" stroke="#111" stroke-width="1.0" stroke-linecap="butt"/>
<line x1="165.00" y1="339.00" x2="165.00" y2="342.90" stroke="#111" stroke-width="1.0" stroke-linecap="butt"/>
<line x1="181.25" y1="339.00" x2="181.25" y2="342.90" stroke="#111" stroke-width="1.0" stroke-linecap="butt"/>
<text transform="translate(148.10 345.60) rotate(-90)" x="0" y="2.94" font-size="8.2" text-anchor="end" textLength="44.00" lengthAdjust="spacingAndGlyphs">Steady-state</text>
<text transform="translate(164.50 348.20) rotate(-90)" x="0" y="2.86" font-size="8.0" text-anchor="middle">1</text>
<text transform="translate(180.75 348.20) rotate(-90)" x="0" y="2.86" font-size="8.0" text-anchor="middle">2</text>
<line x1="161.40" y1="353.10" x2="183.55" y2="353.10" stroke="#333" stroke-width="1.1" stroke-dasharray="2.4 1.25" stroke-linecap="butt"/>
<text transform="translate(166.20 356.50) rotate(-90)" x="0" y="2.94" font-size="8.2" text-anchor="end" textLength="18.00" lengthAdjust="spacingAndGlyphs">Post-</text>
<text transform="translate(175.90 356.20) rotate(-90)" x="0" y="2.94" font-size="8.2" text-anchor="end" textLength="35.50" lengthAdjust="spacingAndGlyphs">transplant</text>
<text x="279.10" y="254.57" font-size="9.4" text-anchor="middle" textLength="75.09" lengthAdjust="spacingAndGlyphs"><tspan font-style="italic">Trp53 R270H</tspan> (#3)</text>
<line x1="257.05" y1="263.95" x2="257.05" y2="338.90" stroke="#111" stroke-width="1.7" stroke-linecap="butt"/>
<line x1="256.20" y1="338.35" x2="305.50" y2="338.35" stroke="#111" stroke-width="1.2" stroke-linecap="butt"/>
<line x1="254.00" y1="264.50" x2="257.00" y2="264.50" stroke="#111" stroke-width="1.0" stroke-linecap="butt"/>
<text x="250.80" y="267.12" font-size="8.3" text-anchor="end" textLength="12.36" lengthAdjust="spacingAndGlyphs">100</text>
<path d="M255.2 274.77H257.0M255.2 272.19H257.0M255.2 270.35H257.0M255.2 268.93H257.0M255.2 267.76H257.0M255.2 266.78H257.0M255.2 265.92H257.0M255.2 265.17H257.0" stroke="#111" stroke-width="0.5" fill="none"/>
<line x1="254.00" y1="279.20" x2="257.00" y2="279.20" stroke="#111" stroke-width="1.0" stroke-linecap="butt"/>
<text x="250.80" y="281.82" font-size="8.3" text-anchor="end" textLength="8.24" lengthAdjust="spacingAndGlyphs">10</text>
<path d="M255.2 289.47H257.0M255.2 286.89H257.0M255.2 285.05H257.0M255.2 283.63H257.0M255.2 282.46H257.0M255.2 281.48H257.0M255.2 280.62H257.0M255.2 279.87H257.0" stroke="#111" stroke-width="0.5" fill="none"/>
<line x1="254.00" y1="293.90" x2="257.00" y2="293.90" stroke="#111" stroke-width="1.0" stroke-linecap="butt"/>
<text x="250.80" y="296.52" font-size="8.3" text-anchor="end" textLength="4.12" lengthAdjust="spacingAndGlyphs">1</text>
<path d="M255.2 304.17H257.0M255.2 301.59H257.0M255.2 299.75H257.0M255.2 298.33H257.0M255.2 297.16H257.0M255.2 296.18H257.0M255.2 295.32H257.0M255.2 294.57H257.0" stroke="#111" stroke-width="0.5" fill="none"/>
<line x1="254.00" y1="308.60" x2="257.00" y2="308.60" stroke="#111" stroke-width="1.0" stroke-linecap="butt"/>
<text x="250.80" y="311.22" font-size="8.3" text-anchor="end" textLength="10.30" lengthAdjust="spacingAndGlyphs">0.1</text>
<path d="M255.2 318.87H257.0M255.2 316.29H257.0M255.2 314.45H257.0M255.2 313.03H257.0M255.2 311.86H257.0M255.2 310.88H257.0M255.2 310.02H257.0M255.2 309.27H257.0" stroke="#111" stroke-width="0.5" fill="none"/>
<line x1="254.00" y1="323.30" x2="257.00" y2="323.30" stroke="#111" stroke-width="1.0" stroke-linecap="butt"/>
<text x="250.80" y="325.92" font-size="8.3" text-anchor="end" textLength="14.42" lengthAdjust="spacingAndGlyphs">0.01</text>
<path d="M255.2 333.57H257.0M255.2 330.99H257.0M255.2 329.15H257.0M255.2 327.73H257.0M255.2 326.56H257.0M255.2 325.58H257.0M255.2 324.72H257.0M255.2 323.97H257.0" stroke="#111" stroke-width="0.5" fill="none"/>
<line x1="254.00" y1="338.00" x2="257.00" y2="338.00" stroke="#111" stroke-width="1.0" stroke-linecap="butt"/>
<text x="250.80" y="340.62" font-size="8.3" text-anchor="end" textLength="18.54" lengthAdjust="spacingAndGlyphs">0.001</text>
<line x1="282.25" y1="298.00" x2="282.25" y2="302.50" stroke="#111" stroke-width="0.9" stroke-linecap="butt"/>
<line x1="279.65" y1="298.00" x2="284.85" y2="298.00" stroke="#111" stroke-width="0.9" stroke-linecap="butt"/>
<rect x="277.30" y="302.30" width="9.90" height="35.50" fill="#3ab54a" stroke="#2ba43f" stroke-width="0.6"/>
<line x1="298.25" y1="302.50" x2="298.25" y2="306.00" stroke="#111" stroke-width="0.9" stroke-linecap="butt"/>
<line x1="295.65" y1="302.50" x2="300.85" y2="302.50" stroke="#111" stroke-width="0.9" stroke-linecap="butt"/>
<rect x="293.30" y="305.80" width="9.90" height="32.00" fill="#155085" stroke="#0e4273" stroke-width="0.6"/>
<text x="265.70" y="335.95" font-size="7.4" text-anchor="middle" textLength="4.00" lengthAdjust="spacingAndGlyphs" style="stroke-width:0.2px">#</text>
<line x1="265.60" y1="338.00" x2="265.60" y2="341.90" stroke="#111" stroke-width="1.0" stroke-linecap="butt"/>
<line x1="281.80" y1="338.00" x2="281.80" y2="341.90" stroke="#111" stroke-width="1.0" stroke-linecap="butt"/>
<line x1="298.10" y1="338.00" x2="298.10" y2="341.90" stroke="#111" stroke-width="1.0" stroke-linecap="butt"/>
<text transform="translate(223.20 302.20) rotate(-90)" x="0" y="4.01" font-size="11.2" text-anchor="middle" textLength="19.30" lengthAdjust="spacingAndGlyphs" style="stroke-width:0.25px">% VAF</text>
<text transform="translate(265.10 344.60) rotate(-90)" x="0" y="2.94" font-size="8.2" text-anchor="end" textLength="44.00" lengthAdjust="spacingAndGlyphs">Steady-state</text>
<text transform="translate(281.30 347.20) rotate(-90)" x="0" y="2.86" font-size="8.0" text-anchor="middle">1</text>
<text transform="translate(297.60 347.20) rotate(-90)" x="0" y="2.86" font-size="8.0" text-anchor="middle">2</text>
<line x1="279.70" y1="351.00" x2="301.90" y2="351.00" stroke="#333" stroke-width="1.1" stroke-dasharray="2.4 1.25" stroke-linecap="butt"/>
<text transform="translate(286.00 355.50) rotate(-90)" x="0" y="2.94" font-size="8.2" text-anchor="end" textLength="18.00" lengthAdjust="spacingAndGlyphs">Post-</text>
<text transform="translate(295.00 355.20) rotate(-90)" x="0" y="2.94" font-size="8.2" text-anchor="end" textLength="35.50" lengthAdjust="spacingAndGlyphs">transplant</text>
<text x="365.00" y="254.17" font-size="9.4" text-anchor="middle" textLength="73.37" lengthAdjust="spacingAndGlyphs"><tspan font-style="italic">Trp53 R227K</tspan> (#4)</text>
<line x1="343.05" y1="263.45" x2="343.05" y2="338.90" stroke="#111" stroke-width="1.7" stroke-linecap="butt"/>
<line x1="342.20" y1="338.35" x2="392.00" y2="338.35" stroke="#111" stroke-width="1.2" stroke-linecap="butt"/>
<line x1="340.00" y1="264.00" x2="343.00" y2="264.00" stroke="#111" stroke-width="1.0" stroke-linecap="butt"/>
<text x="336.80" y="266.62" font-size="8.3" text-anchor="end" textLength="12.36" lengthAdjust="spacingAndGlyphs">100</text>
<path d="M341.2 274.34H343.0M341.2 271.74H343.0M341.2 269.89H343.0M341.2 268.46H343.0M341.2 267.28H343.0M341.2 266.29H343.0M341.2 265.43H343.0M341.2 264.68H343.0" stroke="#111" stroke-width="0.5" fill="none"/>
<line x1="340.00" y1="278.80" x2="343.00" y2="278.80" stroke="#111" stroke-width="1.0" stroke-linecap="butt"/>
<text x="336.80" y="281.42" font-size="8.3" text-anchor="end" textLength="8.24" lengthAdjust="spacingAndGlyphs">10</text>
<path d="M341.2 289.14H343.0M341.2 286.54H343.0M341.2 284.69H343.0M341.2 283.26H343.0M341.2 282.08H343.0M341.2 281.09H343.0M341.2 280.23H343.0M341.2 279.48H343.0" stroke="#111" stroke-width="0.5" fill="none"/>
<line x1="340.00" y1="293.60" x2="343.00" y2="293.60" stroke="#111" stroke-width="1.0" stroke-linecap="butt"/>
<text x="336.80" y="296.22" font-size="8.3" text-anchor="end" textLength="4.12" lengthAdjust="spacingAndGlyphs">1</text>
<path d="M341.2 303.94H343.0M341.2 301.34H343.0M341.2 299.49H343.0M341.2 298.06H343.0M341.2 296.88H343.0M341.2 295.89H343.0M341.2 295.03H343.0M341.2 294.28H343.0" stroke="#111" stroke-width="0.5" fill="none"/>
<line x1="340.00" y1="308.40" x2="343.00" y2="308.40" stroke="#111" stroke-width="1.0" stroke-linecap="butt"/>
<text x="336.80" y="311.02" font-size="8.3" text-anchor="end" textLength="10.30" lengthAdjust="spacingAndGlyphs">0.1</text>
<path d="M341.2 318.74H343.0M341.2 316.14H343.0M341.2 314.29H343.0M341.2 312.86H343.0M341.2 311.68H343.0M341.2 310.69H343.0M341.2 309.83H343.0M341.2 309.08H343.0" stroke="#111" stroke-width="0.5" fill="none"/>
<line x1="340.00" y1="323.20" x2="343.00" y2="323.20" stroke="#111" stroke-width="1.0" stroke-linecap="butt"/>
<text x="336.80" y="325.82" font-size="8.3" text-anchor="end" textLength="14.42" lengthAdjust="spacingAndGlyphs">0.01</text>
<path d="M341.2 333.54H343.0M341.2 330.94H343.0M341.2 329.09H343.0M341.2 327.66H343.0M341.2 326.48H343.0M341.2 325.49H343.0M341.2 324.63H343.0M341.2 323.88H343.0" stroke="#111" stroke-width="0.5" fill="none"/>
<line x1="340.00" y1="338.00" x2="343.00" y2="338.00" stroke="#111" stroke-width="1.0" stroke-linecap="butt"/>
<text x="336.80" y="340.62" font-size="8.3" text-anchor="end" textLength="18.54" lengthAdjust="spacingAndGlyphs">0.001</text>
<line x1="369.00" y1="305.00" x2="369.00" y2="308.75" stroke="#111" stroke-width="0.9" stroke-linecap="butt"/>
<line x1="366.40" y1="305.00" x2="371.60" y2="305.00" stroke="#111" stroke-width="0.9" stroke-linecap="butt"/>
<rect x="365.30" y="308.55" width="7.40" height="29.25" fill="#3ab54a" stroke="#2ba43f" stroke-width="0.6"/>
<line x1="385.38" y1="305.00" x2="385.38" y2="308.75" stroke="#111" stroke-width="0.9" stroke-linecap="butt"/>
<line x1="382.77" y1="305.00" x2="387.98" y2="305.00" stroke="#111" stroke-width="0.9" stroke-linecap="butt"/>
<rect x="381.55" y="308.55" width="7.65" height="29.25" fill="#155085" stroke="#0e4273" stroke-width="0.6"/>
<text x="352.50" y="335.95" font-size="7.4" text-anchor="middle" textLength="4.00" lengthAdjust="spacingAndGlyphs" style="stroke-width:0.2px">#</text>
<line x1="352.50" y1="338.00" x2="352.50" y2="341.90" stroke="#111" stroke-width="1.0" stroke-linecap="butt"/>
<line x1="369.00" y1="338.00" x2="369.00" y2="341.90" stroke="#111" stroke-width="1.0" stroke-linecap="butt"/>
<line x1="385.40" y1="338.00" x2="385.40" y2="341.90" stroke="#111" stroke-width="1.0" stroke-linecap="butt"/>
<text transform="translate(352.00 344.60) rotate(-90)" x="0" y="2.94" font-size="8.2" text-anchor="end" textLength="44.00" lengthAdjust="spacingAndGlyphs">Steady-state</text>
<text transform="translate(368.50 347.20) rotate(-90)" x="0" y="2.86" font-size="8.0" text-anchor="middle">1</text>
<text transform="translate(384.90 347.20) rotate(-90)" x="0" y="2.86" font-size="8.0" text-anchor="middle">2</text>
<line x1="366.90" y1="351.00" x2="389.20" y2="351.00" stroke="#333" stroke-width="1.1" stroke-dasharray="2.4 1.25" stroke-linecap="butt"/>
<text transform="translate(373.20 355.50) rotate(-90)" x="0" y="2.94" font-size="8.2" text-anchor="end" textLength="18.00" lengthAdjust="spacingAndGlyphs">Post-</text>
<text transform="translate(382.20 355.20) rotate(-90)" x="0" y="2.94" font-size="8.2" text-anchor="end" textLength="35.50" lengthAdjust="spacingAndGlyphs">transplant</text>
<text x="457.50" y="254.07" font-size="9.4" text-anchor="middle" textLength="74.28" lengthAdjust="spacingAndGlyphs"><tspan font-style="italic">Asxl1 A873G</tspan> (#5)</text>
<line x1="439.35" y1="263.45" x2="439.35" y2="338.90" stroke="#111" stroke-width="1.7" stroke-linecap="butt"/>
<line x1="438.50" y1="338.35" x2="488.00" y2="338.35" stroke="#111" stroke-width="1.2" stroke-linecap="butt"/>
<line x1="436.30" y1="264.00" x2="439.30" y2="264.00" stroke="#111" stroke-width="1.0" stroke-linecap="butt"/>
<text x="433.70" y="266.62" font-size="8.3" text-anchor="end" textLength="12.36" lengthAdjust="spacingAndGlyphs">100</text>
<path d="M437.5 274.34H439.3M437.5 271.74H439.3M437.5 269.89H439.3M437.5 268.46H439.3M437.5 267.28H439.3M437.5 266.29H439.3M437.5 265.43H439.3M437.5 264.68H439.3" stroke="#111" stroke-width="0.5" fill="none"/>
<line x1="436.30" y1="278.80" x2="439.30" y2="278.80" stroke="#111" stroke-width="1.0" stroke-linecap="butt"/>
<text x="433.70" y="281.42" font-size="8.3" text-anchor="end" textLength="8.24" lengthAdjust="spacingAndGlyphs">10</text>
<path d="M437.5 289.14H439.3M437.5 286.54H439.3M437.5 284.69H439.3M437.5 283.26H439.3M437.5 282.08H439.3M437.5 281.09H439.3M437.5 280.23H439.3M437.5 279.48H439.3" stroke="#111" stroke-width="0.5" fill="none"/>
<line x1="436.30" y1="293.60" x2="439.30" y2="293.60" stroke="#111" stroke-width="1.0" stroke-linecap="butt"/>
<text x="433.70" y="296.22" font-size="8.3" text-anchor="end" textLength="4.12" lengthAdjust="spacingAndGlyphs">1</text>
<path d="M437.5 303.94H439.3M437.5 301.34H439.3M437.5 299.49H439.3M437.5 298.06H439.3M437.5 296.88H439.3M437.5 295.89H439.3M437.5 295.03H439.3M437.5 294.28H439.3" stroke="#111" stroke-width="0.5" fill="none"/>
<line x1="436.30" y1="308.40" x2="439.30" y2="308.40" stroke="#111" stroke-width="1.0" stroke-linecap="butt"/>
<text x="433.70" y="311.02" font-size="8.3" text-anchor="end" textLength="10.30" lengthAdjust="spacingAndGlyphs">0.1</text>
<path d="M437.5 318.74H439.3M437.5 316.14H439.3M437.5 314.29H439.3M437.5 312.86H439.3M437.5 311.68H439.3M437.5 310.69H439.3M437.5 309.83H439.3M437.5 309.08H439.3" stroke="#111" stroke-width="0.5" fill="none"/>
<line x1="436.30" y1="323.20" x2="439.30" y2="323.20" stroke="#111" stroke-width="1.0" stroke-linecap="butt"/>
<text x="433.70" y="325.82" font-size="8.3" text-anchor="end" textLength="14.42" lengthAdjust="spacingAndGlyphs">0.01</text>
<path d="M437.5 333.54H439.3M437.5 330.94H439.3M437.5 329.09H439.3M437.5 327.66H439.3M437.5 326.48H439.3M437.5 325.49H439.3M437.5 324.63H439.3M437.5 323.88H439.3" stroke="#111" stroke-width="0.5" fill="none"/>
<line x1="436.30" y1="338.00" x2="439.30" y2="338.00" stroke="#111" stroke-width="1.0" stroke-linecap="butt"/>
<text x="433.70" y="340.62" font-size="8.3" text-anchor="end" textLength="18.54" lengthAdjust="spacingAndGlyphs">0.001</text>
<line x1="448.25" y1="317.40" x2="448.25" y2="324.40" stroke="#111" stroke-width="0.9" stroke-linecap="butt"/>
<line x1="445.65" y1="317.40" x2="450.85" y2="317.40" stroke="#111" stroke-width="0.9" stroke-linecap="butt"/>
<rect x="444.60" y="324.20" width="7.30" height="13.60" fill="#c5112e" stroke="#ae0c27" stroke-width="0.6"/>
<line x1="464.75" y1="284.20" x2="464.75" y2="285.10" stroke="#111" stroke-width="0.9" stroke-linecap="butt"/>
<line x1="462.15" y1="284.20" x2="467.35" y2="284.20" stroke="#111" stroke-width="0.9" stroke-linecap="butt"/>
<rect x="461.00" y="284.90" width="7.50" height="52.90" fill="#3ab54a" stroke="#2ba43f" stroke-width="0.6"/>
<line x1="481.10" y1="282.50" x2="481.10" y2="283.50" stroke="#111" stroke-width="0.9" stroke-linecap="butt"/>
<line x1="478.50" y1="282.50" x2="483.70" y2="282.50" stroke="#111" stroke-width="0.9" stroke-linecap="butt"/>
<rect x="477.60" y="283.30" width="7.00" height="54.50" fill="#155085" stroke="#0e4273" stroke-width="0.6"/>
<text transform="translate(448.30 311.10) rotate(-90)" x="0" y="2.18" font-size="6.1" text-anchor="middle"><tspan letter-spacing="0.8">++</tspan></text>
<line x1="448.20" y1="338.00" x2="448.20" y2="341.90" stroke="#111" stroke-width="1.0" stroke-linecap="butt"/>
<line x1="464.70" y1="338.00" x2="464.70" y2="341.90" stroke="#111" stroke-width="1.0" stroke-linecap="butt"/>
<line x1="481.10" y1="338.00" x2="481.10" y2="341.90" stroke="#111" stroke-width="1.0" stroke-linecap="butt"/>
<text transform="translate(447.70 344.60) rotate(-90)" x="0" y="2.94" font-size="8.2" text-anchor="end" textLength="44.00" lengthAdjust="spacingAndGlyphs">Steady-state</text>
<text transform="translate(464.20 347.20) rotate(-90)" x="0" y="2.86" font-size="8.0" text-anchor="middle">1</text>
<text transform="translate(480.60 347.20) rotate(-90)" x="0" y="2.86" font-size="8.0" text-anchor="middle">2</text>
<line x1="462.60" y1="351.00" x2="484.90" y2="351.00" stroke="#333" stroke-width="1.1" stroke-dasharray="2.4 1.25" stroke-linecap="butt"/>
<text transform="translate(468.90 355.50) rotate(-90)" x="0" y="2.94" font-size="8.2" text-anchor="end" textLength="18.00" lengthAdjust="spacingAndGlyphs">Post-</text>
<text transform="translate(477.90 355.20) rotate(-90)" x="0" y="2.94" font-size="8.2" text-anchor="end" textLength="35.50" lengthAdjust="spacingAndGlyphs">transplant</text>
<text x="73.70" y="410.37" font-size="9.4" text-anchor="middle" textLength="73.37" lengthAdjust="spacingAndGlyphs"><tspan font-style="italic">Tet2 A1395T</tspan> (#4)</text>
<line x1="57.05" y1="420.20" x2="57.05" y2="495.70" stroke="#111" stroke-width="1.7" stroke-linecap="butt"/>
<line x1="56.20" y1="495.15" x2="107.00" y2="495.15" stroke="#111" stroke-width="1.2" stroke-linecap="butt"/>
<line x1="54.00" y1="420.75" x2="57.00" y2="420.75" stroke="#111" stroke-width="1.0" stroke-linecap="butt"/>
<text x="50.80" y="423.37" font-size="8.3" text-anchor="end" textLength="12.36" lengthAdjust="spacingAndGlyphs">100</text>
<path d="M55.2 431.10H57.0M55.2 428.49H57.0M55.2 426.64H57.0M55.2 425.21H57.0M55.2 424.04H57.0M55.2 423.04H57.0M55.2 422.19H57.0M55.2 421.43H57.0" stroke="#111" stroke-width="0.5" fill="none"/>
<line x1="54.00" y1="435.56" x2="57.00" y2="435.56" stroke="#111" stroke-width="1.0" stroke-linecap="butt"/>
<text x="50.80" y="438.18" font-size="8.3" text-anchor="end" textLength="8.24" lengthAdjust="spacingAndGlyphs">10</text>
<path d="M55.2 445.91H57.0M55.2 443.30H57.0M55.2 441.45H57.0M55.2 440.02H57.0M55.2 438.85H57.0M55.2 437.85H57.0M55.2 437.00H57.0M55.2 436.24H57.0" stroke="#111" stroke-width="0.5" fill="none"/>
<line x1="54.00" y1="450.37" x2="57.00" y2="450.37" stroke="#111" stroke-width="1.0" stroke-linecap="butt"/>
<text x="50.80" y="452.99" font-size="8.3" text-anchor="end" textLength="4.12" lengthAdjust="spacingAndGlyphs">1</text>
<path d="M55.2 460.72H57.0M55.2 458.11H57.0M55.2 456.26H57.0M55.2 454.83H57.0M55.2 453.66H57.0M55.2 452.66H57.0M55.2 451.81H57.0M55.2 451.05H57.0" stroke="#111" stroke-width="0.5" fill="none"/>
<line x1="54.00" y1="465.18" x2="57.00" y2="465.18" stroke="#111" stroke-width="1.0" stroke-linecap="butt"/>
<text x="50.80" y="467.80" font-size="8.3" text-anchor="end" textLength="10.30" lengthAdjust="spacingAndGlyphs">0.1</text>
<path d="M55.2 475.53H57.0M55.2 472.92H57.0M55.2 471.07H57.0M55.2 469.64H57.0M55.2 468.47H57.0M55.2 467.47H57.0M55.2 466.62H57.0M55.2 465.86H57.0" stroke="#111" stroke-width="0.5" fill="none"/>
<line x1="54.00" y1="479.99" x2="57.00" y2="479.99" stroke="#111" stroke-width="1.0" stroke-linecap="butt"/>
<text x="50.80" y="482.61" font-size="8.3" text-anchor="end" textLength="14.42" lengthAdjust="spacingAndGlyphs">0.01</text>
<path d="M55.2 490.34H57.0M55.2 487.73H57.0M55.2 485.88H57.0M55.2 484.45H57.0M55.2 483.28H57.0M55.2 482.28H57.0M55.2 481.43H57.0M55.2 480.67H57.0" stroke="#111" stroke-width="0.5" fill="none"/>
<line x1="54.00" y1="494.80" x2="57.00" y2="494.80" stroke="#111" stroke-width="1.0" stroke-linecap="butt"/>
<text x="50.80" y="497.42" font-size="8.3" text-anchor="end" textLength="18.54" lengthAdjust="spacingAndGlyphs">0.001</text>
<line x1="66.00" y1="468.00" x2="66.00" y2="473.75" stroke="#111" stroke-width="0.9" stroke-linecap="butt"/>
<line x1="63.40" y1="468.00" x2="68.60" y2="468.00" stroke="#111" stroke-width="0.9" stroke-linecap="butt"/>
<rect x="62.30" y="473.55" width="7.40" height="21.05" fill="#c5112e" stroke="#ae0c27" stroke-width="0.6"/>
<line x1="82.25" y1="455.00" x2="82.25" y2="457.50" stroke="#111" stroke-width="0.9" stroke-linecap="butt"/>
<line x1="79.65" y1="455.00" x2="84.85" y2="455.00" stroke="#111" stroke-width="0.9" stroke-linecap="butt"/>
<rect x="78.55" y="457.30" width="7.40" height="37.30" fill="#3ab54a" stroke="#2ba43f" stroke-width="0.6"/>
<line x1="98.50" y1="471.25" x2="98.50" y2="478.75" stroke="#111" stroke-width="0.9" stroke-linecap="butt"/>
<line x1="95.90" y1="471.25" x2="101.10" y2="471.25" stroke="#111" stroke-width="0.9" stroke-linecap="butt"/>
<rect x="94.80" y="478.55" width="7.40" height="16.05" fill="#155085" stroke="#0e4273" stroke-width="0.6"/>
<text transform="translate(66.10 460.60) rotate(-90)" x="0" y="2.18" font-size="6.1" text-anchor="middle"><tspan letter-spacing="0.8">++</tspan></text>
<text transform="translate(98.60 463.30) rotate(-90)" x="0" y="2.18" font-size="6.1" text-anchor="middle"><tspan letter-spacing="0.8">++</tspan></text>
<line x1="65.80" y1="494.80" x2="65.80" y2="498.70" stroke="#111" stroke-width="1.0" stroke-linecap="butt"/>
<line x1="82.40" y1="494.80" x2="82.40" y2="498.70" stroke="#111" stroke-width="1.0" stroke-linecap="butt"/>
<line x1="99.00" y1="494.80" x2="99.00" y2="498.70" stroke="#111" stroke-width="1.0" stroke-linecap="butt"/>
<text transform="translate(23.20 458.40) rotate(-90)" x="0" y="4.01" font-size="11.2" text-anchor="middle" textLength="19.30" lengthAdjust="spacingAndGlyphs" style="stroke-width:0.25px">% VAF</text>
<text transform="translate(65.30 501.40) rotate(-90)" x="0" y="2.94" font-size="8.2" text-anchor="end" textLength="44.00" lengthAdjust="spacingAndGlyphs">Steady-state</text>
<text transform="translate(81.90 504.00) rotate(-90)" x="0" y="2.86" font-size="8.0" text-anchor="middle">1</text>
<text transform="translate(98.50 504.00) rotate(-90)" x="0" y="2.86" font-size="8.0" text-anchor="middle">2</text>
<line x1="78.80" y1="508.90" x2="101.30" y2="508.90" stroke="#333" stroke-width="1.1" stroke-dasharray="2.4 1.25" stroke-linecap="butt"/>
<text transform="translate(83.60 512.30) rotate(-90)" x="0" y="2.94" font-size="8.2" text-anchor="end" textLength="18.00" lengthAdjust="spacingAndGlyphs">Post-</text>
<text transform="translate(93.30 512.00) rotate(-90)" x="0" y="2.94" font-size="8.2" text-anchor="end" textLength="35.50" lengthAdjust="spacingAndGlyphs">transplant</text>
<text x="164.10" y="410.17" font-size="9.4" text-anchor="middle" textLength="81.67" lengthAdjust="spacingAndGlyphs"><tspan font-style="italic">Dnmt3a I820M</tspan> (#8)</text>
<line x1="142.05" y1="419.45" x2="142.05" y2="494.90" stroke="#111" stroke-width="1.7" stroke-linecap="butt"/>
<line x1="141.20" y1="494.35" x2="192.00" y2="494.35" stroke="#111" stroke-width="1.2" stroke-linecap="butt"/>
<line x1="139.00" y1="420.00" x2="142.00" y2="420.00" stroke="#111" stroke-width="1.0" stroke-linecap="butt"/>
<text x="135.80" y="422.62" font-size="8.3" text-anchor="end" textLength="12.36" lengthAdjust="spacingAndGlyphs">100</text>
<path d="M140.2 430.34H142.0M140.2 427.74H142.0M140.2 425.89H142.0M140.2 424.46H142.0M140.2 423.28H142.0M140.2 422.29H142.0M140.2 421.43H142.0M140.2 420.68H142.0" stroke="#111" stroke-width="0.5" fill="none"/>
<line x1="139.00" y1="434.80" x2="142.00" y2="434.80" stroke="#111" stroke-width="1.0" stroke-linecap="butt"/>
<text x="135.80" y="437.42" font-size="8.3" text-anchor="end" textLength="8.24" lengthAdjust="spacingAndGlyphs">10</text>
<path d="M140.2 445.14H142.0M140.2 442.54H142.0M140.2 440.69H142.0M140.2 439.26H142.0M140.2 438.08H142.0M140.2 437.09H142.0M140.2 436.23H142.0M140.2 435.48H142.0" stroke="#111" stroke-width="0.5" fill="none"/>
<line x1="139.00" y1="449.60" x2="142.00" y2="449.60" stroke="#111" stroke-width="1.0" stroke-linecap="butt"/>
<text x="135.80" y="452.22" font-size="8.3" text-anchor="end" textLength="4.12" lengthAdjust="spacingAndGlyphs">1</text>
<path d="M140.2 459.94H142.0M140.2 457.34H142.0M140.2 455.49H142.0M140.2 454.06H142.0M140.2 452.88H142.0M140.2 451.89H142.0M140.2 451.03H142.0M140.2 450.28H142.0" stroke="#111" stroke-width="0.5" fill="none"/>
<line x1="139.00" y1="464.40" x2="142.00" y2="464.40" stroke="#111" stroke-width="1.0" stroke-linecap="butt"/>
<text x="135.80" y="467.02" font-size="8.3" text-anchor="end" textLength="10.30" lengthAdjust="spacingAndGlyphs">0.1</text>
<path d="M140.2 474.74H142.0M140.2 472.14H142.0M140.2 470.29H142.0M140.2 468.86H142.0M140.2 467.68H142.0M140.2 466.69H142.0M140.2 465.83H142.0M140.2 465.08H142.0" stroke="#111" stroke-width="0.5" fill="none"/>
<line x1="139.00" y1="479.20" x2="142.00" y2="479.20" stroke="#111" stroke-width="1.0" stroke-linecap="butt"/>
<text x="135.80" y="481.82" font-size="8.3" text-anchor="end" textLength="14.42" lengthAdjust="spacingAndGlyphs">0.01</text>
<path d="M140.2 489.54H142.0M140.2 486.94H142.0M140.2 485.09H142.0M140.2 483.66H142.0M140.2 482.48H142.0M140.2 481.49H142.0M140.2 480.63H142.0M140.2 479.88H142.0" stroke="#111" stroke-width="0.5" fill="none"/>
<line x1="139.00" y1="494.00" x2="142.00" y2="494.00" stroke="#111" stroke-width="1.0" stroke-linecap="butt"/>
<text x="135.80" y="496.62" font-size="8.3" text-anchor="end" textLength="18.54" lengthAdjust="spacingAndGlyphs">0.001</text>
<line x1="151.50" y1="470.00" x2="151.50" y2="476.25" stroke="#111" stroke-width="0.9" stroke-linecap="butt"/>
<line x1="148.90" y1="470.00" x2="154.10" y2="470.00" stroke="#111" stroke-width="0.9" stroke-linecap="butt"/>
<rect x="147.80" y="476.05" width="7.40" height="17.75" fill="#c5112e" stroke="#ae0c27" stroke-width="0.6"/>
<line x1="167.88" y1="453.75" x2="167.88" y2="456.25" stroke="#111" stroke-width="0.9" stroke-linecap="butt"/>
<line x1="165.28" y1="453.75" x2="170.47" y2="453.75" stroke="#111" stroke-width="0.9" stroke-linecap="butt"/>
<rect x="164.05" y="456.05" width="7.65" height="37.75" fill="#3ab54a" stroke="#2ba43f" stroke-width="0.6"/>
<line x1="184.50" y1="468.25" x2="184.50" y2="474.25" stroke="#111" stroke-width="0.9" stroke-linecap="butt"/>
<line x1="181.90" y1="468.25" x2="187.10" y2="468.25" stroke="#111" stroke-width="0.9" stroke-linecap="butt"/>
<rect x="180.80" y="474.05" width="7.40" height="19.75" fill="#155085" stroke="#0e4273" stroke-width="0.6"/>
<text transform="translate(151.60 462.10) rotate(-90)" x="0" y="2.18" font-size="6.1" text-anchor="middle"><tspan letter-spacing="0.8">++</tspan></text>
<text transform="translate(184.60 460.60) rotate(-90)" x="0" y="2.18" font-size="6.1" text-anchor="middle"><tspan letter-spacing="0.8">++</tspan></text>
<line x1="151.60" y1="494.00" x2="151.60" y2="497.90" stroke="#111" stroke-width="1.0" stroke-linecap="butt"/>
<line x1="168.00" y1="494.00" x2="168.00" y2="497.90" stroke="#111" stroke-width="1.0" stroke-linecap="butt"/>
<line x1="184.50" y1="494.00" x2="184.50" y2="497.90" stroke="#111" stroke-width="1.0" stroke-linecap="butt"/>
<text transform="translate(151.10 500.60) rotate(-90)" x="0" y="2.94" font-size="8.2" text-anchor="end" textLength="44.00" lengthAdjust="spacingAndGlyphs">Steady-state</text>
<text transform="translate(167.50 503.20) rotate(-90)" x="0" y="2.86" font-size="8.0" text-anchor="middle">1</text>
<text transform="translate(184.00 503.20) rotate(-90)" x="0" y="2.86" font-size="8.0" text-anchor="middle">2</text>
<line x1="164.40" y1="508.10" x2="186.80" y2="508.10" stroke="#333" stroke-width="1.1" stroke-dasharray="2.4 1.25" stroke-linecap="butt"/>
<text transform="translate(169.20 511.50) rotate(-90)" x="0" y="2.94" font-size="8.2" text-anchor="end" textLength="18.00" lengthAdjust="spacingAndGlyphs">Post-</text>
<text transform="translate(178.90 511.20) rotate(-90)" x="0" y="2.94" font-size="8.2" text-anchor="end" textLength="35.50" lengthAdjust="spacingAndGlyphs">transplant</text>
<text x="72.50" y="564.67" font-size="9.4" text-anchor="middle" textLength="75.90" lengthAdjust="spacingAndGlyphs"><tspan font-style="italic">Tet2 G1046D</tspan> (#9)</text>
<line x1="60.05" y1="574.95" x2="60.05" y2="650.40" stroke="#111" stroke-width="1.7" stroke-linecap="butt"/>
<line x1="59.20" y1="649.85" x2="109.50" y2="649.85" stroke="#111" stroke-width="1.2" stroke-linecap="butt"/>
<line x1="57.00" y1="575.50" x2="60.00" y2="575.50" stroke="#111" stroke-width="1.0" stroke-linecap="butt"/>
<text x="53.80" y="578.12" font-size="8.3" text-anchor="end" textLength="12.36" lengthAdjust="spacingAndGlyphs">100</text>
<path d="M58.2 585.84H60.0M58.2 583.24H60.0M58.2 581.39H60.0M58.2 579.96H60.0M58.2 578.78H60.0M58.2 577.79H60.0M58.2 576.93H60.0M58.2 576.18H60.0" stroke="#111" stroke-width="0.5" fill="none"/>
<line x1="57.00" y1="590.30" x2="60.00" y2="590.30" stroke="#111" stroke-width="1.0" stroke-linecap="butt"/>
<text x="53.80" y="592.92" font-size="8.3" text-anchor="end" textLength="8.24" lengthAdjust="spacingAndGlyphs">10</text>
<path d="M58.2 600.64H60.0M58.2 598.04H60.0M58.2 596.19H60.0M58.2 594.76H60.0M58.2 593.58H60.0M58.2 592.59H60.0M58.2 591.73H60.0M58.2 590.98H60.0" stroke="#111" stroke-width="0.5" fill="none"/>
<line x1="57.00" y1="605.10" x2="60.00" y2="605.10" stroke="#111" stroke-width="1.0" stroke-linecap="butt"/>
<text x="53.80" y="607.72" font-size="8.3" text-anchor="end" textLength="4.12" lengthAdjust="spacingAndGlyphs">1</text>
<path d="M58.2 615.44H60.0M58.2 612.84H60.0M58.2 610.99H60.0M58.2 609.56H60.0M58.2 608.38H60.0M58.2 607.39H60.0M58.2 606.53H60.0M58.2 605.78H60.0" stroke="#111" stroke-width="0.5" fill="none"/>
<line x1="57.00" y1="619.90" x2="60.00" y2="619.90" stroke="#111" stroke-width="1.0" stroke-linecap="butt"/>
<text x="53.80" y="622.52" font-size="8.3" text-anchor="end" textLength="10.30" lengthAdjust="spacingAndGlyphs">0.1</text>
<path d="M58.2 630.24H60.0M58.2 627.64H60.0M58.2 625.79H60.0M58.2 624.36H60.0M58.2 623.18H60.0M58.2 622.19H60.0M58.2 621.33H60.0M58.2 620.58H60.0" stroke="#111" stroke-width="0.5" fill="none"/>
<line x1="57.00" y1="634.70" x2="60.00" y2="634.70" stroke="#111" stroke-width="1.0" stroke-linecap="butt"/>
<text x="53.80" y="637.32" font-size="8.3" text-anchor="end" textLength="14.42" lengthAdjust="spacingAndGlyphs">0.01</text>
<path d="M58.2 645.04H60.0M58.2 642.44H60.0M58.2 640.59H60.0M58.2 639.16H60.0M58.2 637.98H60.0M58.2 636.99H60.0M58.2 636.13H60.0M58.2 635.38H60.0" stroke="#111" stroke-width="0.5" fill="none"/>
<line x1="57.00" y1="649.50" x2="60.00" y2="649.50" stroke="#111" stroke-width="1.0" stroke-linecap="butt"/>
<text x="53.80" y="652.12" font-size="8.3" text-anchor="end" textLength="18.54" lengthAdjust="spacingAndGlyphs">0.001</text>
<line x1="85.25" y1="608.00" x2="85.25" y2="612.50" stroke="#111" stroke-width="0.9" stroke-linecap="butt"/>
<line x1="82.65" y1="608.00" x2="87.85" y2="608.00" stroke="#111" stroke-width="0.9" stroke-linecap="butt"/>
<rect x="81.55" y="612.30" width="7.40" height="37.00" fill="#3ab54a" stroke="#2ba43f" stroke-width="0.6"/>
<text x="68.75" y="647.45" font-size="7.4" text-anchor="middle" textLength="4.00" lengthAdjust="spacingAndGlyphs" style="stroke-width:0.2px">#</text>
<text x="101.40" y="647.45" font-size="7.4" text-anchor="middle" textLength="4.00" lengthAdjust="spacingAndGlyphs" style="stroke-width:0.2px">#</text>
<line x1="68.75" y1="649.50" x2="68.75" y2="653.40" stroke="#111" stroke-width="1.0" stroke-linecap="butt"/>
<line x1="85.25" y1="649.50" x2="85.25" y2="653.40" stroke="#111" stroke-width="1.0" stroke-linecap="butt"/>
<line x1="101.50" y1="649.50" x2="101.50" y2="653.40" stroke="#111" stroke-width="1.0" stroke-linecap="butt"/>
<text transform="translate(23.20 612.20) rotate(-90)" x="0" y="4.01" font-size="11.2" text-anchor="middle" textLength="19.30" lengthAdjust="spacingAndGlyphs" style="stroke-width:0.25px">% VAF</text>
<text transform="translate(68.25 656.10) rotate(-90)" x="0" y="2.94" font-size="8.2" text-anchor="end" textLength="44.00" lengthAdjust="spacingAndGlyphs">Steady-state</text>
<text transform="translate(84.75 658.70) rotate(-90)" x="0" y="2.86" font-size="8.0" text-anchor="middle">1</text>
<text transform="translate(101.00 658.70) rotate(-90)" x="0" y="2.86" font-size="8.0" text-anchor="middle">2</text>
<line x1="81.65" y1="663.60" x2="103.80" y2="663.60" stroke="#333" stroke-width="1.1" stroke-dasharray="2.4 1.25" stroke-linecap="butt"/>
<text transform="translate(86.45 667.00) rotate(-90)" x="0" y="2.94" font-size="8.2" text-anchor="end" textLength="18.00" lengthAdjust="spacingAndGlyphs">Post-</text>
<text transform="translate(97.15 666.70) rotate(-90)" x="0" y="2.94" font-size="8.2" text-anchor="end" textLength="35.50" lengthAdjust="spacingAndGlyphs">transplant</text>
<text x="164.00" y="564.67" font-size="9.4" text-anchor="middle" textLength="78.94" lengthAdjust="spacingAndGlyphs"><tspan font-style="italic">Tet2 H1790Y</tspan> (#10)</text>
<line x1="145.05" y1="574.95" x2="145.05" y2="650.40" stroke="#111" stroke-width="1.7" stroke-linecap="butt"/>
<line x1="144.20" y1="649.85" x2="194.50" y2="649.85" stroke="#111" stroke-width="1.2" stroke-linecap="butt"/>
<line x1="142.00" y1="575.50" x2="145.00" y2="575.50" stroke="#111" stroke-width="1.0" stroke-linecap="butt"/>
<text x="138.80" y="578.12" font-size="8.3" text-anchor="end" textLength="12.36" lengthAdjust="spacingAndGlyphs">100</text>
<path d="M143.2 585.84H145.0M143.2 583.24H145.0M143.2 581.39H145.0M143.2 579.96H145.0M143.2 578.78H145.0M143.2 577.79H145.0M143.2 576.93H145.0M143.2 576.18H145.0" stroke="#111" stroke-width="0.5" fill="none"/>
<line x1="142.00" y1="590.30" x2="145.00" y2="590.30" stroke="#111" stroke-width="1.0" stroke-linecap="butt"/>
<text x="138.80" y="592.92" font-size="8.3" text-anchor="end" textLength="8.24" lengthAdjust="spacingAndGlyphs">10</text>
<path d="M143.2 600.64H145.0M143.2 598.04H145.0M143.2 596.19H145.0M143.2 594.76H145.0M143.2 593.58H145.0M143.2 592.59H145.0M143.2 591.73H145.0M143.2 590.98H145.0" stroke="#111" stroke-width="0.5" fill="none"/>
<line x1="142.00" y1="605.10" x2="145.00" y2="605.10" stroke="#111" stroke-width="1.0" stroke-linecap="butt"/>
<text x="138.80" y="607.72" font-size="8.3" text-anchor="end" textLength="4.12" lengthAdjust="spacingAndGlyphs">1</text>
<path d="M143.2 615.44H145.0M143.2 612.84H145.0M143.2 610.99H145.0M143.2 609.56H145.0M143.2 608.38H145.0M143.2 607.39H145.0M143.2 606.53H145.0M143.2 605.78H145.0" stroke="#111" stroke-width="0.5" fill="none"/>
<line x1="142.00" y1="619.90" x2="145.00" y2="619.90" stroke="#111" stroke-width="1.0" stroke-linecap="butt"/>
<text x="138.80" y="622.52" font-size="8.3" text-anchor="end" textLength="10.30" lengthAdjust="spacingAndGlyphs">0.1</text>
<path d="M143.2 630.24H145.0M143.2 627.64H145.0M143.2 625.79H145.0M143.2 624.36H145.0M143.2 623.18H145.0M143.2 622.19H145.0M143.2 621.33H145.0M143.2 620.58H145.0" stroke="#111" stroke-width="0.5" fill="none"/>
<line x1="142.00" y1="634.70" x2="145.00" y2="634.70" stroke="#111" stroke-width="1.0" stroke-linecap="butt"/>
<text x="138.80" y="637.32" font-size="8.3" text-anchor="end" textLength="14.42" lengthAdjust="spacingAndGlyphs">0.01</text>
<path d="M143.2 645.04H145.0M143.2 642.44H145.0M143.2 640.59H145.0M143.2 639.16H145.0M143.2 637.98H145.0M143.2 636.99H145.0M143.2 636.13H145.0M143.2 635.38H145.0" stroke="#111" stroke-width="0.5" fill="none"/>
<line x1="142.00" y1="649.50" x2="145.00" y2="649.50" stroke="#111" stroke-width="1.0" stroke-linecap="butt"/>
<text x="138.80" y="652.12" font-size="8.3" text-anchor="end" textLength="18.54" lengthAdjust="spacingAndGlyphs">0.001</text>
<line x1="170.20" y1="613.00" x2="170.20" y2="620.50" stroke="#111" stroke-width="0.9" stroke-linecap="butt"/>
<line x1="167.60" y1="613.00" x2="172.80" y2="613.00" stroke="#111" stroke-width="0.9" stroke-linecap="butt"/>
<rect x="166.50" y="620.30" width="7.40" height="29.00" fill="#3ab54a" stroke="#2ba43f" stroke-width="0.6"/>
<text x="153.70" y="647.45" font-size="7.4" text-anchor="middle" textLength="4.00" lengthAdjust="spacingAndGlyphs" style="stroke-width:0.2px">#</text>
<text x="186.60" y="647.45" font-size="7.4" text-anchor="middle" textLength="4.00" lengthAdjust="spacingAndGlyphs" style="stroke-width:0.2px">#</text>
<line x1="153.70" y1="649.50" x2="153.70" y2="653.40" stroke="#111" stroke-width="1.0" stroke-linecap="butt"/>
<line x1="170.20" y1="649.50" x2="170.20" y2="653.40" stroke="#111" stroke-width="1.0" stroke-linecap="butt"/>
<line x1="186.60" y1="649.50" x2="186.60" y2="653.40" stroke="#111" stroke-width="1.0" stroke-linecap="butt"/>
<text transform="translate(153.20 656.10) rotate(-90)" x="0" y="2.94" font-size="8.2" text-anchor="end" textLength="44.00" lengthAdjust="spacingAndGlyphs">Steady-state</text>
<text transform="translate(169.70 658.70) rotate(-90)" x="0" y="2.86" font-size="8.0" text-anchor="middle">1</text>
<text transform="translate(186.10 658.70) rotate(-90)" x="0" y="2.86" font-size="8.0" text-anchor="middle">2</text>
<line x1="166.60" y1="663.60" x2="188.90" y2="663.60" stroke="#333" stroke-width="1.1" stroke-dasharray="2.4 1.25" stroke-linecap="butt"/>
<text transform="translate(171.40 667.00) rotate(-90)" x="0" y="2.94" font-size="8.2" text-anchor="end" textLength="18.00" lengthAdjust="spacingAndGlyphs">Post-</text>
<text transform="translate(181.10 666.70) rotate(-90)" x="0" y="2.94" font-size="8.2" text-anchor="end" textLength="35.50" lengthAdjust="spacingAndGlyphs">transplant</text>
<text x="291.20" y="408.37" font-size="9.4" text-anchor="middle" textLength="25.30" lengthAdjust="spacingAndGlyphs"><tspan font-style="italic">Trp53</tspan></text>
<text x="290.90" y="420.17" font-size="9.4" text-anchor="middle" textLength="44.73" lengthAdjust="spacingAndGlyphs"><tspan font-style="italic">Y160S</tspan> (#3)</text>
<line x1="267.05" y1="428.20" x2="267.05" y2="502.90" stroke="#111" stroke-width="1.7" stroke-linecap="butt"/>
<line x1="266.20" y1="502.35" x2="316.25" y2="502.35" stroke="#111" stroke-width="1.2" stroke-linecap="butt"/>
<line x1="264.00" y1="428.75" x2="267.00" y2="428.75" stroke="#111" stroke-width="1.0" stroke-linecap="butt"/>
<text x="260.80" y="431.37" font-size="8.3" text-anchor="end" textLength="12.36" lengthAdjust="spacingAndGlyphs">100</text>
<path d="M265.2 438.99H267.0M265.2 436.41H267.0M265.2 434.58H267.0M265.2 433.16H267.0M265.2 432.00H267.0M265.2 431.02H267.0M265.2 430.17H267.0M265.2 429.42H267.0" stroke="#111" stroke-width="0.5" fill="none"/>
<line x1="264.00" y1="443.40" x2="267.00" y2="443.40" stroke="#111" stroke-width="1.0" stroke-linecap="butt"/>
<text x="260.80" y="446.02" font-size="8.3" text-anchor="end" textLength="8.24" lengthAdjust="spacingAndGlyphs">10</text>
<path d="M265.2 453.64H267.0M265.2 451.06H267.0M265.2 449.23H267.0M265.2 447.81H267.0M265.2 446.65H267.0M265.2 445.67H267.0M265.2 444.82H267.0M265.2 444.07H267.0" stroke="#111" stroke-width="0.5" fill="none"/>
<line x1="264.00" y1="458.05" x2="267.00" y2="458.05" stroke="#111" stroke-width="1.0" stroke-linecap="butt"/>
<text x="260.80" y="460.67" font-size="8.3" text-anchor="end" textLength="4.12" lengthAdjust="spacingAndGlyphs">1</text>
<path d="M265.2 468.29H267.0M265.2 465.71H267.0M265.2 463.88H267.0M265.2 462.46H267.0M265.2 461.30H267.0M265.2 460.32H267.0M265.2 459.47H267.0M265.2 458.72H267.0" stroke="#111" stroke-width="0.5" fill="none"/>
<line x1="264.00" y1="472.70" x2="267.00" y2="472.70" stroke="#111" stroke-width="1.0" stroke-linecap="butt"/>
<text x="260.80" y="475.32" font-size="8.3" text-anchor="end" textLength="10.30" lengthAdjust="spacingAndGlyphs">0.1</text>
<path d="M265.2 482.94H267.0M265.2 480.36H267.0M265.2 478.53H267.0M265.2 477.11H267.0M265.2 475.95H267.0M265.2 474.97H267.0M265.2 474.12H267.0M265.2 473.37H267.0" stroke="#111" stroke-width="0.5" fill="none"/>
<line x1="264.00" y1="487.35" x2="267.00" y2="487.35" stroke="#111" stroke-width="1.0" stroke-linecap="butt"/>
<text x="260.80" y="489.97" font-size="8.3" text-anchor="end" textLength="14.42" lengthAdjust="spacingAndGlyphs">0.01</text>
<path d="M265.2 497.59H267.0M265.2 495.01H267.0M265.2 493.18H267.0M265.2 491.76H267.0M265.2 490.60H267.0M265.2 489.62H267.0M265.2 488.77H267.0M265.2 488.02H267.0" stroke="#111" stroke-width="0.5" fill="none"/>
<line x1="264.00" y1="502.00" x2="267.00" y2="502.00" stroke="#111" stroke-width="1.0" stroke-linecap="butt"/>
<text x="260.80" y="504.62" font-size="8.3" text-anchor="end" textLength="18.54" lengthAdjust="spacingAndGlyphs">0.001</text>
<line x1="291.88" y1="466.75" x2="291.88" y2="471.75" stroke="#111" stroke-width="0.9" stroke-linecap="butt"/>
<line x1="289.27" y1="466.75" x2="294.48" y2="466.75" stroke="#111" stroke-width="0.9" stroke-linecap="butt"/>
<rect x="287.80" y="471.55" width="8.15" height="30.25" fill="#3ab54a" stroke="#2ba43f" stroke-width="0.6"/>
<text x="275.70" y="499.95" font-size="7.4" text-anchor="middle" textLength="4.00" lengthAdjust="spacingAndGlyphs" style="stroke-width:0.2px">#</text>
<text x="308.40" y="499.95" font-size="7.4" text-anchor="middle" textLength="4.00" lengthAdjust="spacingAndGlyphs" style="stroke-width:0.2px">#</text>
<line x1="275.60" y1="502.00" x2="275.60" y2="505.90" stroke="#111" stroke-width="1.0" stroke-linecap="butt"/>
<line x1="291.80" y1="502.00" x2="291.80" y2="505.90" stroke="#111" stroke-width="1.0" stroke-linecap="butt"/>
<line x1="308.00" y1="502.00" x2="308.00" y2="505.90" stroke="#111" stroke-width="1.0" stroke-linecap="butt"/>
<text transform="translate(235.70 464.70) rotate(-90)" x="0" y="4.01" font-size="11.2" text-anchor="middle" textLength="19.30" lengthAdjust="spacingAndGlyphs" style="stroke-width:0.25px">% VAF</text>
<text transform="translate(275.10 508.60) rotate(-90)" x="0" y="2.94" font-size="8.2" text-anchor="end" textLength="44.00" lengthAdjust="spacingAndGlyphs">Steady-state</text>
<text transform="translate(291.30 511.20) rotate(-90)" x="0" y="2.86" font-size="8.0" text-anchor="middle">1</text>
<text transform="translate(307.50 511.20) rotate(-90)" x="0" y="2.86" font-size="8.0" text-anchor="middle">2</text>
<line x1="288.80" y1="515.10" x2="310.90" y2="515.10" stroke="#333" stroke-width="1.1" stroke-dasharray="2.4 1.25" stroke-linecap="butt"/>
<text transform="translate(294.50 519.50) rotate(-90)" x="0" y="2.94" font-size="8.2" text-anchor="end" textLength="18.00" lengthAdjust="spacingAndGlyphs">Post-</text>
<text transform="translate(304.20 519.20) rotate(-90)" x="0" y="2.94" font-size="8.2" text-anchor="end" textLength="35.50" lengthAdjust="spacingAndGlyphs">transplant</text>
<text x="383.50" y="408.37" font-size="9.4" text-anchor="middle" textLength="56.17" lengthAdjust="spacingAndGlyphs"><tspan font-style="italic">Trp53 Q101_</tspan></text>
<text x="383.10" y="420.17" font-size="9.4" text-anchor="middle" textLength="54.34" lengthAdjust="spacingAndGlyphs"><tspan font-style="italic">G102del</tspan> (#6)</text>
<line x1="356.85" y1="426.20" x2="356.85" y2="501.70" stroke="#111" stroke-width="1.7" stroke-linecap="butt"/>
<line x1="356.00" y1="501.15" x2="406.25" y2="501.15" stroke="#111" stroke-width="1.2" stroke-linecap="butt"/>
<line x1="353.80" y1="426.75" x2="356.80" y2="426.75" stroke="#111" stroke-width="1.0" stroke-linecap="butt"/>
<text x="350.60" y="429.37" font-size="8.3" text-anchor="end" textLength="12.36" lengthAdjust="spacingAndGlyphs">100</text>
<path d="M355.0 437.10H356.8M355.0 434.49H356.8M355.0 432.64H356.8M355.0 431.21H356.8M355.0 430.04H356.8M355.0 429.04H356.8M355.0 428.19H356.8M355.0 427.43H356.8" stroke="#111" stroke-width="0.5" fill="none"/>
<line x1="353.80" y1="441.56" x2="356.80" y2="441.56" stroke="#111" stroke-width="1.0" stroke-linecap="butt"/>
<text x="350.60" y="444.18" font-size="8.3" text-anchor="end" textLength="8.24" lengthAdjust="spacingAndGlyphs">10</text>
<path d="M355.0 451.91H356.8M355.0 449.30H356.8M355.0 447.45H356.8M355.0 446.02H356.8M355.0 444.85H356.8M355.0 443.85H356.8M355.0 443.00H356.8M355.0 442.24H356.8" stroke="#111" stroke-width="0.5" fill="none"/>
<line x1="353.80" y1="456.37" x2="356.80" y2="456.37" stroke="#111" stroke-width="1.0" stroke-linecap="butt"/>
<text x="350.60" y="458.99" font-size="8.3" text-anchor="end" textLength="4.12" lengthAdjust="spacingAndGlyphs">1</text>
<path d="M355.0 466.72H356.8M355.0 464.11H356.8M355.0 462.26H356.8M355.0 460.83H356.8M355.0 459.66H356.8M355.0 458.66H356.8M355.0 457.81H356.8M355.0 457.05H356.8" stroke="#111" stroke-width="0.5" fill="none"/>
<line x1="353.80" y1="471.18" x2="356.80" y2="471.18" stroke="#111" stroke-width="1.0" stroke-linecap="butt"/>
<text x="350.60" y="473.80" font-size="8.3" text-anchor="end" textLength="10.30" lengthAdjust="spacingAndGlyphs">0.1</text>
<path d="M355.0 481.53H356.8M355.0 478.92H356.8M355.0 477.07H356.8M355.0 475.64H356.8M355.0 474.47H356.8M355.0 473.47H356.8M355.0 472.62H356.8M355.0 471.86H356.8" stroke="#111" stroke-width="0.5" fill="none"/>
<line x1="353.80" y1="485.99" x2="356.80" y2="485.99" stroke="#111" stroke-width="1.0" stroke-linecap="butt"/>
<text x="350.60" y="488.61" font-size="8.3" text-anchor="end" textLength="14.42" lengthAdjust="spacingAndGlyphs">0.01</text>
<path d="M355.0 496.34H356.8M355.0 493.73H356.8M355.0 491.88H356.8M355.0 490.45H356.8M355.0 489.28H356.8M355.0 488.28H356.8M355.0 487.43H356.8M355.0 486.67H356.8" stroke="#111" stroke-width="0.5" fill="none"/>
<line x1="353.80" y1="500.80" x2="356.80" y2="500.80" stroke="#111" stroke-width="1.0" stroke-linecap="butt"/>
<text x="350.60" y="503.42" font-size="8.3" text-anchor="end" textLength="18.54" lengthAdjust="spacingAndGlyphs">0.001</text>
<line x1="381.50" y1="464.50" x2="381.50" y2="468.50" stroke="#111" stroke-width="0.9" stroke-linecap="butt"/>
<line x1="378.90" y1="464.50" x2="384.10" y2="464.50" stroke="#111" stroke-width="0.9" stroke-linecap="butt"/>
<rect x="377.80" y="468.30" width="7.40" height="32.30" fill="#3ab54a" stroke="#2ba43f" stroke-width="0.6"/>
<text x="365.00" y="498.75" font-size="7.4" text-anchor="middle" textLength="4.00" lengthAdjust="spacingAndGlyphs" style="stroke-width:0.2px">#</text>
<text x="397.80" y="498.75" font-size="7.4" text-anchor="middle" textLength="4.00" lengthAdjust="spacingAndGlyphs" style="stroke-width:0.2px">#</text>
<line x1="365.00" y1="500.80" x2="365.00" y2="504.70" stroke="#111" stroke-width="1.0" stroke-linecap="butt"/>
<line x1="381.30" y1="500.80" x2="381.30" y2="504.70" stroke="#111" stroke-width="1.0" stroke-linecap="butt"/>
<line x1="397.70" y1="500.80" x2="397.70" y2="504.70" stroke="#111" stroke-width="1.0" stroke-linecap="butt"/>
<text transform="translate(364.50 507.40) rotate(-90)" x="0" y="2.94" font-size="8.2" text-anchor="end" textLength="44.00" lengthAdjust="spacingAndGlyphs">Steady-state</text>
<text transform="translate(380.80 510.00) rotate(-90)" x="0" y="2.86" font-size="8.0" text-anchor="middle">1</text>
<text transform="translate(397.20 510.00) rotate(-90)" x="0" y="2.86" font-size="8.0" text-anchor="middle">2</text>
<line x1="378.00" y1="513.90" x2="400.30" y2="513.90" stroke="#333" stroke-width="1.1" stroke-dasharray="2.4 1.25" stroke-linecap="butt"/>
<text transform="translate(382.50 518.30) rotate(-90)" x="0" y="2.94" font-size="8.2" text-anchor="end" textLength="18.00" lengthAdjust="spacingAndGlyphs">Post-</text>
<text transform="translate(392.20 518.00) rotate(-90)" x="0" y="2.94" font-size="8.2" text-anchor="end" textLength="35.50" lengthAdjust="spacingAndGlyphs">transplant</text>
<text x="473.00" y="408.27" font-size="9.4" text-anchor="middle" textLength="35.42" lengthAdjust="spacingAndGlyphs"><tspan font-style="italic">Dnmt3A</tspan></text>
<text x="472.70" y="420.27" font-size="9.4" text-anchor="middle" textLength="46.75" lengthAdjust="spacingAndGlyphs"><tspan font-style="italic">G564E</tspan> (#7)</text>
<line x1="450.85" y1="426.05" x2="450.85" y2="501.70" stroke="#111" stroke-width="1.7" stroke-linecap="butt"/>
<line x1="450.00" y1="501.15" x2="500.90" y2="501.15" stroke="#111" stroke-width="1.2" stroke-linecap="butt"/>
<line x1="447.80" y1="426.60" x2="450.80" y2="426.60" stroke="#111" stroke-width="1.0" stroke-linecap="butt"/>
<text x="444.60" y="429.22" font-size="8.3" text-anchor="end" textLength="12.36" lengthAdjust="spacingAndGlyphs">100</text>
<path d="M449.0 436.97H450.8M449.0 434.36H450.8M449.0 432.51H450.8M449.0 431.07H450.8M449.0 429.89H450.8M449.0 428.90H450.8M449.0 428.04H450.8M449.0 427.28H450.8" stroke="#111" stroke-width="0.5" fill="none"/>
<line x1="447.80" y1="441.44" x2="450.80" y2="441.44" stroke="#111" stroke-width="1.0" stroke-linecap="butt"/>
<text x="444.60" y="444.06" font-size="8.3" text-anchor="end" textLength="8.24" lengthAdjust="spacingAndGlyphs">10</text>
<path d="M449.0 451.81H450.8M449.0 449.20H450.8M449.0 447.35H450.8M449.0 445.91H450.8M449.0 444.73H450.8M449.0 443.74H450.8M449.0 442.88H450.8M449.0 442.12H450.8" stroke="#111" stroke-width="0.5" fill="none"/>
<line x1="447.80" y1="456.28" x2="450.80" y2="456.28" stroke="#111" stroke-width="1.0" stroke-linecap="butt"/>
<text x="444.60" y="458.90" font-size="8.3" text-anchor="end" textLength="4.12" lengthAdjust="spacingAndGlyphs">1</text>
<path d="M449.0 466.65H450.8M449.0 464.04H450.8M449.0 462.19H450.8M449.0 460.75H450.8M449.0 459.57H450.8M449.0 458.58H450.8M449.0 457.72H450.8M449.0 456.96H450.8" stroke="#111" stroke-width="0.5" fill="none"/>
<line x1="447.80" y1="471.12" x2="450.80" y2="471.12" stroke="#111" stroke-width="1.0" stroke-linecap="butt"/>
<text x="444.60" y="473.74" font-size="8.3" text-anchor="end" textLength="10.30" lengthAdjust="spacingAndGlyphs">0.1</text>
<path d="M449.0 481.49H450.8M449.0 478.88H450.8M449.0 477.03H450.8M449.0 475.59H450.8M449.0 474.41H450.8M449.0 473.42H450.8M449.0 472.56H450.8M449.0 471.80H450.8" stroke="#111" stroke-width="0.5" fill="none"/>
<line x1="447.80" y1="485.96" x2="450.80" y2="485.96" stroke="#111" stroke-width="1.0" stroke-linecap="butt"/>
<text x="444.60" y="488.58" font-size="8.3" text-anchor="end" textLength="14.42" lengthAdjust="spacingAndGlyphs">0.01</text>
<path d="M449.0 496.33H450.8M449.0 493.72H450.8M449.0 491.87H450.8M449.0 490.43H450.8M449.0 489.25H450.8M449.0 488.26H450.8M449.0 487.40H450.8M449.0 486.64H450.8" stroke="#111" stroke-width="0.5" fill="none"/>
<line x1="447.80" y1="500.80" x2="450.80" y2="500.80" stroke="#111" stroke-width="1.0" stroke-linecap="butt"/>
<text x="444.60" y="503.42" font-size="8.3" text-anchor="end" textLength="18.54" lengthAdjust="spacingAndGlyphs">0.001</text>
<line x1="476.00" y1="455.00" x2="476.00" y2="457.10" stroke="#111" stroke-width="0.9" stroke-linecap="butt"/>
<line x1="473.40" y1="455.00" x2="478.60" y2="455.00" stroke="#111" stroke-width="0.9" stroke-linecap="butt"/>
<rect x="472.30" y="456.90" width="7.40" height="43.70" fill="#3ab54a" stroke="#2ba43f" stroke-width="0.6"/>
<text x="459.50" y="498.75" font-size="7.4" text-anchor="middle" textLength="4.00" lengthAdjust="spacingAndGlyphs" style="stroke-width:0.2px">#</text>
<text x="492.30" y="498.75" font-size="7.4" text-anchor="middle" textLength="4.00" lengthAdjust="spacingAndGlyphs" style="stroke-width:0.2px">#</text>
<line x1="459.50" y1="500.80" x2="459.50" y2="504.70" stroke="#111" stroke-width="1.0" stroke-linecap="butt"/>
<line x1="475.80" y1="500.80" x2="475.80" y2="504.70" stroke="#111" stroke-width="1.0" stroke-linecap="butt"/>
<line x1="492.30" y1="500.80" x2="492.30" y2="504.70" stroke="#111" stroke-width="1.0" stroke-linecap="butt"/>
<text transform="translate(459.00 507.40) rotate(-90)" x="0" y="2.94" font-size="8.2" text-anchor="end" textLength="44.00" lengthAdjust="spacingAndGlyphs">Steady-state</text>
<text transform="translate(475.30 510.00) rotate(-90)" x="0" y="2.86" font-size="8.0" text-anchor="middle">1</text>
<text transform="translate(491.80 510.00) rotate(-90)" x="0" y="2.86" font-size="8.0" text-anchor="middle">2</text>
<line x1="472.60" y1="514.30" x2="495.00" y2="514.30" stroke="#333" stroke-width="1.1" stroke-dasharray="2.4 1.25" stroke-linecap="butt"/>
<text transform="translate(477.90 518.30) rotate(-90)" x="0" y="2.94" font-size="8.2" text-anchor="end" textLength="18.00" lengthAdjust="spacingAndGlyphs">Post-</text>
<text transform="translate(487.60 518.00) rotate(-90)" x="0" y="2.94" font-size="8.2" text-anchor="end" textLength="35.50" lengthAdjust="spacingAndGlyphs">transplant</text>
<text x="289.50" y="568.87" font-size="9.4" text-anchor="middle" textLength="80.96" lengthAdjust="spacingAndGlyphs"><tspan font-style="italic">Asxl1 L1210F</tspan> (#11)</text>
<line x1="272.05" y1="580.20" x2="272.05" y2="657.10" stroke="#111" stroke-width="1.7" stroke-linecap="butt"/>
<line x1="271.20" y1="656.55" x2="322.50" y2="656.55" stroke="#111" stroke-width="1.2" stroke-linecap="butt"/>
<line x1="269.00" y1="580.75" x2="272.00" y2="580.75" stroke="#111" stroke-width="1.0" stroke-linecap="butt"/>
<text x="265.80" y="583.37" font-size="8.3" text-anchor="end" textLength="12.36" lengthAdjust="spacingAndGlyphs">100</text>
<path d="M270.2 591.30H272.0M270.2 588.64H272.0M270.2 586.75H272.0M270.2 585.29H272.0M270.2 584.10H272.0M270.2 583.09H272.0M270.2 582.21H272.0M270.2 581.44H272.0" stroke="#111" stroke-width="0.5" fill="none"/>
<line x1="269.00" y1="595.84" x2="272.00" y2="595.84" stroke="#111" stroke-width="1.0" stroke-linecap="butt"/>
<text x="265.80" y="598.46" font-size="8.3" text-anchor="end" textLength="8.24" lengthAdjust="spacingAndGlyphs">10</text>
<path d="M270.2 606.39H272.0M270.2 603.73H272.0M270.2 601.84H272.0M270.2 600.38H272.0M270.2 599.19H272.0M270.2 598.18H272.0M270.2 597.30H272.0M270.2 596.53H272.0" stroke="#111" stroke-width="0.5" fill="none"/>
<line x1="269.00" y1="610.93" x2="272.00" y2="610.93" stroke="#111" stroke-width="1.0" stroke-linecap="butt"/>
<text x="265.80" y="613.55" font-size="8.3" text-anchor="end" textLength="4.12" lengthAdjust="spacingAndGlyphs">1</text>
<path d="M270.2 621.48H272.0M270.2 618.82H272.0M270.2 616.93H272.0M270.2 615.47H272.0M270.2 614.28H272.0M270.2 613.27H272.0M270.2 612.39H272.0M270.2 611.62H272.0" stroke="#111" stroke-width="0.5" fill="none"/>
<line x1="269.00" y1="626.02" x2="272.00" y2="626.02" stroke="#111" stroke-width="1.0" stroke-linecap="butt"/>
<text x="265.80" y="628.64" font-size="8.3" text-anchor="end" textLength="10.30" lengthAdjust="spacingAndGlyphs">0.1</text>
<path d="M270.2 636.57H272.0M270.2 633.91H272.0M270.2 632.02H272.0M270.2 630.56H272.0M270.2 629.37H272.0M270.2 628.36H272.0M270.2 627.48H272.0M270.2 626.71H272.0" stroke="#111" stroke-width="0.5" fill="none"/>
<line x1="269.00" y1="641.11" x2="272.00" y2="641.11" stroke="#111" stroke-width="1.0" stroke-linecap="butt"/>
<text x="265.80" y="643.73" font-size="8.3" text-anchor="end" textLength="14.42" lengthAdjust="spacingAndGlyphs">0.01</text>
<path d="M270.2 651.66H272.0M270.2 649.00H272.0M270.2 647.11H272.0M270.2 645.65H272.0M270.2 644.46H272.0M270.2 643.45H272.0M270.2 642.57H272.0M270.2 641.80H272.0" stroke="#111" stroke-width="0.5" fill="none"/>
<line x1="269.00" y1="656.20" x2="272.00" y2="656.20" stroke="#111" stroke-width="1.0" stroke-linecap="butt"/>
<text x="265.80" y="658.82" font-size="8.3" text-anchor="end" textLength="18.54" lengthAdjust="spacingAndGlyphs">0.001</text>
<line x1="310.62" y1="618.25" x2="310.62" y2="622.25" stroke="#111" stroke-width="0.9" stroke-linecap="butt"/>
<line x1="308.02" y1="618.25" x2="313.23" y2="618.25" stroke="#111" stroke-width="0.9" stroke-linecap="butt"/>
<rect x="304.80" y="622.05" width="11.65" height="33.95" fill="#155085" stroke="#0e4273" stroke-width="0.6"/>
<text x="285.50" y="654.15" font-size="7.4" text-anchor="middle" textLength="4.00" lengthAdjust="spacingAndGlyphs" style="stroke-width:0.2px">#</text>
<line x1="285.50" y1="656.20" x2="285.50" y2="660.10" stroke="#111" stroke-width="1.0" stroke-linecap="butt"/>
<line x1="310.50" y1="656.20" x2="310.50" y2="660.10" stroke="#111" stroke-width="1.0" stroke-linecap="butt"/>
<text transform="translate(241.20 618.40) rotate(-90)" x="0" y="4.01" font-size="11.2" text-anchor="middle" textLength="19.30" lengthAdjust="spacingAndGlyphs" style="stroke-width:0.25px">% VAF</text>
<text transform="translate(289.40 666.00) rotate(-45)" x="0" y="0.00" font-size="7.9" text-anchor="end" textLength="44.50" lengthAdjust="spacingAndGlyphs">Steady-state</text>
<text transform="translate(314.40 666.00) rotate(-45)" x="0" y="0.00" font-size="7.9" text-anchor="end" textLength="54.00" lengthAdjust="spacingAndGlyphs">Post-transplant</text>
<text x="377.50" y="568.87" font-size="9.4" text-anchor="middle" textLength="71.85" lengthAdjust="spacingAndGlyphs"><tspan font-style="italic">Tet2 K540E</tspan> (#12)</text>
<line x1="355.55" y1="580.20" x2="355.55" y2="657.20" stroke="#111" stroke-width="1.7" stroke-linecap="butt"/>
<line x1="354.70" y1="656.65" x2="405.40" y2="656.65" stroke="#111" stroke-width="1.2" stroke-linecap="butt"/>
<line x1="352.50" y1="580.75" x2="355.50" y2="580.75" stroke="#111" stroke-width="1.0" stroke-linecap="butt"/>
<text x="349.30" y="583.37" font-size="8.3" text-anchor="end" textLength="12.36" lengthAdjust="spacingAndGlyphs">100</text>
<path d="M353.7 591.31H355.5M353.7 588.65H355.5M353.7 586.76H355.5M353.7 585.30H355.5M353.7 584.10H355.5M353.7 583.09H355.5M353.7 582.21H355.5M353.7 581.44H355.5" stroke="#111" stroke-width="0.5" fill="none"/>
<line x1="352.50" y1="595.86" x2="355.50" y2="595.86" stroke="#111" stroke-width="1.0" stroke-linecap="butt"/>
<text x="349.30" y="598.48" font-size="8.3" text-anchor="end" textLength="8.24" lengthAdjust="spacingAndGlyphs">10</text>
<path d="M353.7 606.42H355.5M353.7 603.76H355.5M353.7 601.87H355.5M353.7 600.41H355.5M353.7 599.21H355.5M353.7 598.20H355.5M353.7 597.32H355.5M353.7 596.55H355.5" stroke="#111" stroke-width="0.5" fill="none"/>
<line x1="352.50" y1="610.97" x2="355.50" y2="610.97" stroke="#111" stroke-width="1.0" stroke-linecap="butt"/>
<text x="349.30" y="613.59" font-size="8.3" text-anchor="end" textLength="4.12" lengthAdjust="spacingAndGlyphs">1</text>
<path d="M353.7 621.53H355.5M353.7 618.87H355.5M353.7 616.98H355.5M353.7 615.52H355.5M353.7 614.32H355.5M353.7 613.31H355.5M353.7 612.43H355.5M353.7 611.66H355.5" stroke="#111" stroke-width="0.5" fill="none"/>
<line x1="352.50" y1="626.08" x2="355.50" y2="626.08" stroke="#111" stroke-width="1.0" stroke-linecap="butt"/>
<text x="349.30" y="628.70" font-size="8.3" text-anchor="end" textLength="10.30" lengthAdjust="spacingAndGlyphs">0.1</text>
<path d="M353.7 636.64H355.5M353.7 633.98H355.5M353.7 632.09H355.5M353.7 630.63H355.5M353.7 629.43H355.5M353.7 628.42H355.5M353.7 627.54H355.5M353.7 626.77H355.5" stroke="#111" stroke-width="0.5" fill="none"/>
<line x1="352.50" y1="641.19" x2="355.50" y2="641.19" stroke="#111" stroke-width="1.0" stroke-linecap="butt"/>
<text x="349.30" y="643.81" font-size="8.3" text-anchor="end" textLength="14.42" lengthAdjust="spacingAndGlyphs">0.01</text>
<path d="M353.7 651.75H355.5M353.7 649.09H355.5M353.7 647.20H355.5M353.7 645.74H355.5M353.7 644.54H355.5M353.7 643.53H355.5M353.7 642.65H355.5M353.7 641.88H355.5" stroke="#111" stroke-width="0.5" fill="none"/>
<line x1="352.50" y1="656.30" x2="355.50" y2="656.30" stroke="#111" stroke-width="1.0" stroke-linecap="butt"/>
<text x="349.30" y="658.92" font-size="8.3" text-anchor="end" textLength="18.54" lengthAdjust="spacingAndGlyphs">0.001</text>
<line x1="393.75" y1="613.00" x2="393.75" y2="618.50" stroke="#111" stroke-width="0.9" stroke-linecap="butt"/>
<line x1="391.15" y1="613.00" x2="396.35" y2="613.00" stroke="#111" stroke-width="0.9" stroke-linecap="butt"/>
<rect x="387.80" y="618.30" width="11.90" height="37.80" fill="#155085" stroke="#0e4273" stroke-width="0.6"/>
<text x="369.20" y="654.25" font-size="7.4" text-anchor="middle" textLength="4.00" lengthAdjust="spacingAndGlyphs" style="stroke-width:0.2px">#</text>
<line x1="368.80" y1="656.30" x2="368.80" y2="660.20" stroke="#111" stroke-width="1.0" stroke-linecap="butt"/>
<line x1="393.80" y1="656.30" x2="393.80" y2="660.20" stroke="#111" stroke-width="1.0" stroke-linecap="butt"/>
<text transform="translate(372.70 666.10) rotate(-45)" x="0" y="0.00" font-size="7.9" text-anchor="end" textLength="44.50" lengthAdjust="spacingAndGlyphs">Steady-state</text>
<text transform="translate(397.70 666.10) rotate(-45)" x="0" y="0.00" font-size="7.9" text-anchor="end" textLength="54.00" lengthAdjust="spacingAndGlyphs">Post-transplant</text>
<text x="460.80" y="568.07" font-size="9.4" text-anchor="middle" textLength="80.96" lengthAdjust="spacingAndGlyphs"><tspan font-style="italic">Tet2 A1400G</tspan> (#13)</text>
<line x1="436.25" y1="578.65" x2="436.25" y2="656.10" stroke="#111" stroke-width="1.7" stroke-linecap="butt"/>
<line x1="435.40" y1="655.55" x2="486.00" y2="655.55" stroke="#111" stroke-width="1.2" stroke-linecap="butt"/>
<line x1="433.20" y1="579.20" x2="436.20" y2="579.20" stroke="#111" stroke-width="1.0" stroke-linecap="butt"/>
<text x="430.00" y="581.82" font-size="8.3" text-anchor="end" textLength="12.36" lengthAdjust="spacingAndGlyphs">100</text>
<path d="M434.4 589.82H436.2M434.4 587.15H436.2M434.4 585.25H436.2M434.4 583.78H436.2M434.4 582.57H436.2M434.4 581.55H436.2M434.4 580.67H436.2M434.4 579.90H436.2" stroke="#111" stroke-width="0.5" fill="none"/>
<line x1="433.20" y1="594.40" x2="436.20" y2="594.40" stroke="#111" stroke-width="1.0" stroke-linecap="butt"/>
<text x="430.00" y="597.02" font-size="8.3" text-anchor="end" textLength="8.24" lengthAdjust="spacingAndGlyphs">10</text>
<path d="M434.4 605.02H436.2M434.4 602.35H436.2M434.4 600.45H436.2M434.4 598.98H436.2M434.4 597.77H436.2M434.4 596.75H436.2M434.4 595.87H436.2M434.4 595.10H436.2" stroke="#111" stroke-width="0.5" fill="none"/>
<line x1="433.20" y1="609.60" x2="436.20" y2="609.60" stroke="#111" stroke-width="1.0" stroke-linecap="butt"/>
<text x="430.00" y="612.22" font-size="8.3" text-anchor="end" textLength="4.12" lengthAdjust="spacingAndGlyphs">1</text>
<path d="M434.4 620.22H436.2M434.4 617.55H436.2M434.4 615.65H436.2M434.4 614.18H436.2M434.4 612.97H436.2M434.4 611.95H436.2M434.4 611.07H436.2M434.4 610.30H436.2" stroke="#111" stroke-width="0.5" fill="none"/>
<line x1="433.20" y1="624.80" x2="436.20" y2="624.80" stroke="#111" stroke-width="1.0" stroke-linecap="butt"/>
<text x="430.00" y="627.42" font-size="8.3" text-anchor="end" textLength="10.30" lengthAdjust="spacingAndGlyphs">0.1</text>
<path d="M434.4 635.42H436.2M434.4 632.75H436.2M434.4 630.85H436.2M434.4 629.38H436.2M434.4 628.17H436.2M434.4 627.15H436.2M434.4 626.27H436.2M434.4 625.50H436.2" stroke="#111" stroke-width="0.5" fill="none"/>
<line x1="433.20" y1="640.00" x2="436.20" y2="640.00" stroke="#111" stroke-width="1.0" stroke-linecap="butt"/>
<text x="430.00" y="642.62" font-size="8.3" text-anchor="end" textLength="14.42" lengthAdjust="spacingAndGlyphs">0.01</text>
<path d="M434.4 650.62H436.2M434.4 647.95H436.2M434.4 646.05H436.2M434.4 644.58H436.2M434.4 643.37H436.2M434.4 642.35H436.2M434.4 641.47H436.2M434.4 640.70H436.2" stroke="#111" stroke-width="0.5" fill="none"/>
<line x1="433.20" y1="655.20" x2="436.20" y2="655.20" stroke="#111" stroke-width="1.0" stroke-linecap="butt"/>
<text x="430.00" y="657.82" font-size="8.3" text-anchor="end" textLength="18.54" lengthAdjust="spacingAndGlyphs">0.001</text>
<line x1="474.40" y1="615.50" x2="474.40" y2="619.00" stroke="#111" stroke-width="0.9" stroke-linecap="butt"/>
<line x1="471.80" y1="615.50" x2="477.00" y2="615.50" stroke="#111" stroke-width="0.9" stroke-linecap="butt"/>
<rect x="468.80" y="618.80" width="11.20" height="36.20" fill="#155085" stroke="#0e4273" stroke-width="0.6"/>
<text x="449.30" y="653.15" font-size="7.4" text-anchor="middle" textLength="4.00" lengthAdjust="spacingAndGlyphs" style="stroke-width:0.2px">#</text>
<line x1="449.60" y1="655.20" x2="449.60" y2="659.10" stroke="#111" stroke-width="1.0" stroke-linecap="butt"/>
<line x1="473.80" y1="655.20" x2="473.80" y2="659.10" stroke="#111" stroke-width="1.0" stroke-linecap="butt"/>
<text transform="translate(453.50 665.00) rotate(-45)" x="0" y="0.00" font-size="7.9" text-anchor="end" textLength="44.50" lengthAdjust="spacingAndGlyphs">Steady-state</text>
<text transform="translate(477.70 665.00) rotate(-45)" x="0" y="0.00" font-size="7.9" text-anchor="end" textLength="54.00" lengthAdjust="spacingAndGlyphs">Post-transplant</text>
</svg>
</body></html>
